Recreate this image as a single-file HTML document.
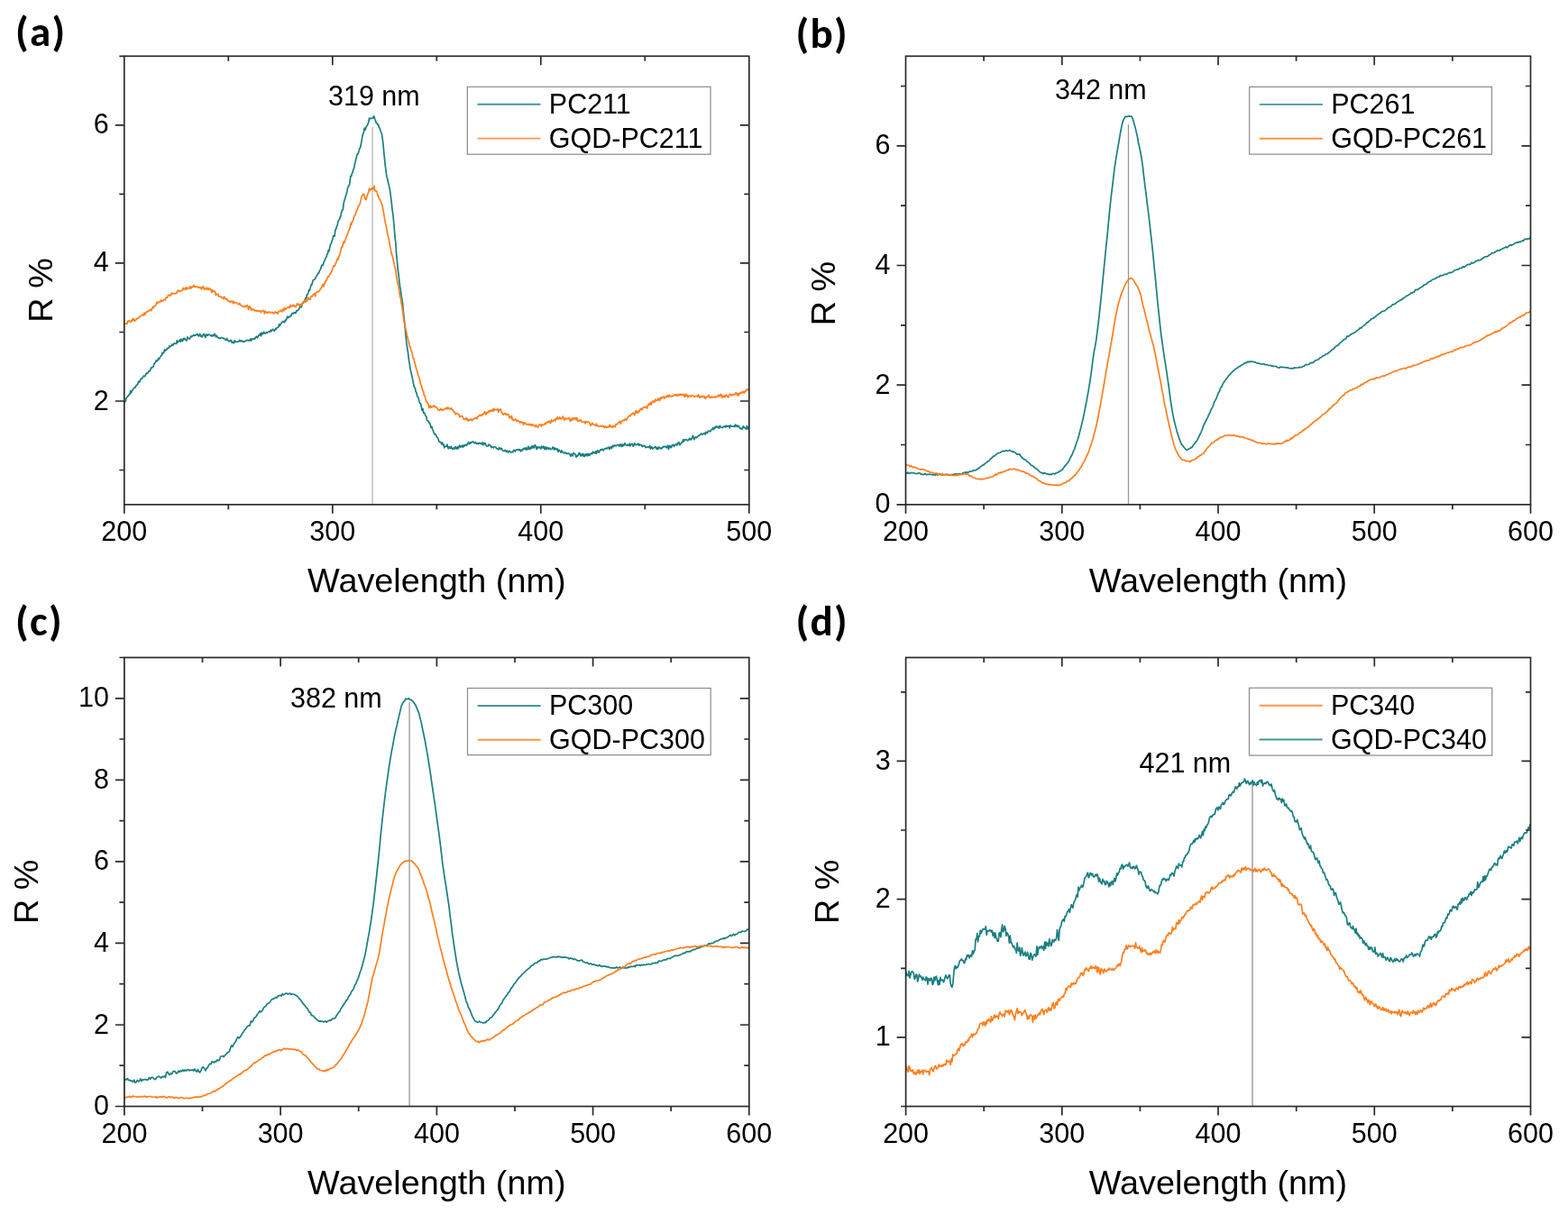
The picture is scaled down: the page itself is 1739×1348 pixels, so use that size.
<!DOCTYPE html><html><head><meta charset="utf-8"><title>Reflectance spectra</title><style>html,body{margin:0;padding:0;background:#fff;}svg{display:block;}text{font-family:"Liberation Sans",Arial,sans-serif;fill:#000;}.tl{font-size:30.5px;}.at{font-size:37.8px;}.lg{font-size:30.5px;}.an{font-size:30.5px;}.pl{font-family:"Carlito","Liberation Sans",sans-serif;font-weight:bold;font-size:47px;letter-spacing:1.3px;}</style></head><body>
<svg width="1739" height="1348" viewBox="0 0 1739 1348">
<rect width="1739" height="1348" fill="#fff"/>
<clipPath id="clipa"><rect x="137.8" y="62.3" width="693.0" height="497.5"/></clipPath>
<g><line x1="413.1" y1="140.8" x2="413.1" y2="559.8" stroke="#c4c4c4" stroke-width="1.6"/><g clip-path="url(#clipa)" fill="none" stroke-width="1.7" stroke-linejoin="round"><path d="M137.8 446.0 L138.6 446.1 L139.3 444.7 L140.1 441.8 L140.9 440.8 L141.7 439.4 L142.4 439.3 L143.2 437.6 L144.0 437.3 L144.7 433.6 L145.5 436.0 L146.3 433.4 L147.0 433.2 L147.8 431.4 L148.6 430.3 L149.4 430.2 L150.1 429.7 L150.9 427.8 L151.7 427.0 L152.4 426.9 L153.2 424.5 L154.0 423.0 L154.7 424.1 L155.5 422.1 L156.3 420.0 L157.1 420.2 L157.8 419.7 L158.6 418.1 L159.4 416.9 L160.1 417.6 L160.9 417.5 L161.7 415.5 L162.4 414.1 L163.2 414.4 L164.0 413.9 L164.8 411.9 L165.5 411.9 L166.3 411.5 L167.1 409.4 L167.8 407.8 L168.6 408.1 L169.4 407.0 L170.1 406.9 L170.9 403.5 L171.7 403.1 L172.5 401.9 L173.2 399.9 L174.0 400.7 L174.8 400.0 L175.5 397.7 L176.3 398.7 L177.1 397.1 L177.8 395.9 L178.6 394.6 L179.4 394.2 L180.2 391.0 L180.9 392.0 L181.7 391.1 L182.5 387.9 L183.2 389.3 L184.0 388.0 L184.8 388.3 L185.5 386.4 L186.3 386.2 L187.1 385.9 L187.9 384.0 L188.6 384.9 L189.4 383.6 L190.2 383.6 L190.9 382.0 L191.7 383.1 L192.5 382.1 L193.2 380.8 L194.0 381.1 L194.8 381.3 L195.6 381.5 L196.3 377.7 L197.1 379.8 L197.9 379.1 L198.6 378.2 L199.4 377.1 L200.2 379.1 L200.9 376.3 L201.7 378.0 L202.5 378.5 L203.3 375.4 L204.0 376.5 L204.8 375.3 L205.6 376.6 L206.3 377.7 L207.1 377.9 L207.9 373.9 L208.6 374.7 L209.4 375.7 L210.2 376.1 L211.0 374.6 L211.7 373.0 L212.5 373.6 L213.3 373.0 L214.0 372.4 L214.8 371.6 L215.6 372.5 L216.3 372.2 L217.1 371.7 L217.9 371.6 L218.7 370.5 L219.4 371.3 L220.2 373.0 L221.0 371.6 L221.7 370.4 L222.5 373.1 L223.3 372.3 L224.0 373.9 L224.8 371.9 L225.6 371.3 L226.4 370.4 L227.1 373.1 L227.9 374.4 L228.7 371.0 L229.4 371.2 L230.2 372.4 L231.0 371.0 L231.7 371.5 L232.5 371.5 L233.3 372.0 L234.1 372.9 L234.8 371.9 L235.6 372.9 L236.4 371.6 L237.1 372.5 L237.9 370.3 L238.7 371.2 L239.4 373.7 L240.2 372.5 L241.0 374.0 L241.8 374.2 L242.5 375.3 L243.3 375.1 L244.1 375.6 L244.8 374.8 L245.6 374.6 L246.4 374.8 L247.1 375.4 L247.9 375.0 L248.7 375.9 L249.5 376.6 L250.2 377.2 L251.0 376.9 L251.8 375.5 L252.5 377.5 L253.3 378.0 L254.1 378.9 L254.8 378.5 L255.6 377.4 L256.4 377.5 L257.2 380.3 L257.9 379.1 L258.7 380.3 L259.5 380.7 L260.2 377.8 L261.0 379.1 L261.8 379.2 L262.5 379.3 L263.3 379.3 L264.1 379.0 L264.9 379.0 L265.6 377.3 L266.4 378.6 L267.2 377.9 L267.9 378.8 L268.7 378.1 L269.5 379.1 L270.2 379.3 L271.0 378.7 L271.8 378.6 L272.6 378.2 L273.3 377.6 L274.1 377.7 L274.9 377.3 L275.6 378.0 L276.4 377.5 L277.2 377.9 L277.9 375.9 L278.7 377.9 L279.5 376.1 L280.3 376.0 L281.0 376.3 L281.8 375.5 L282.6 376.0 L283.3 374.6 L284.1 373.6 L284.9 373.3 L285.6 374.9 L286.4 373.0 L287.2 371.3 L288.0 371.9 L288.7 369.8 L289.5 372.7 L290.3 369.1 L291.0 370.7 L291.8 370.5 L292.6 368.2 L293.3 369.6 L294.1 370.1 L294.9 369.3 L295.7 368.8 L296.4 369.3 L297.2 368.3 L298.0 368.2 L298.7 367.5 L299.5 368.0 L300.3 366.2 L301.0 367.6 L301.8 366.1 L302.6 365.2 L303.4 366.3 L304.1 367.3 L304.9 366.2 L305.7 364.4 L306.4 365.2 L307.2 363.5 L308.0 363.3 L308.7 362.9 L309.5 359.8 L310.3 361.6 L311.1 359.6 L311.8 359.2 L312.6 357.6 L313.4 356.8 L314.1 356.5 L314.9 357.5 L315.7 357.6 L316.4 355.1 L317.2 355.5 L318.0 353.4 L318.8 351.1 L319.5 352.6 L320.3 352.2 L321.1 350.8 L321.8 350.9 L322.6 350.6 L323.4 348.6 L324.1 347.4 L324.9 348.1 L325.7 347.5 L326.5 346.7 L327.2 347.4 L328.0 347.5 L328.8 344.6 L329.5 345.0 L330.3 344.4 L331.1 343.4 L331.8 342.8 L332.6 340.4 L333.4 340.6 L334.2 340.8 L334.9 338.5 L335.7 335.9 L336.5 336.0 L337.2 335.4 L338.0 333.2 L338.8 330.9 L339.5 331.5 L340.3 327.0 L341.1 327.0 L341.9 324.7 L342.6 321.6 L343.4 322.2 L344.2 319.4 L344.9 316.1 L345.7 316.2 L346.5 313.6 L347.2 310.7 L348.0 310.5 L348.8 310.1 L349.6 309.2 L350.3 307.4 L351.1 306.1 L351.9 305.2 L352.6 303.2 L353.4 303.3 L354.2 300.9 L354.9 299.6 L355.7 298.3 L356.5 295.2 L357.3 294.1 L358.0 294.7 L358.8 292.0 L359.6 289.7 L360.3 288.7 L361.1 286.2 L361.9 285.2 L362.6 282.4 L363.4 281.5 L364.2 277.7 L365.0 278.6 L365.7 274.6 L366.5 271.3 L367.3 270.3 L368.0 267.7 L368.8 265.8 L369.6 262.1 L370.3 261.2 L371.1 262.1 L371.9 254.9 L372.7 254.3 L373.4 251.4 L374.2 249.8 L375.0 245.6 L375.7 244.1 L376.5 243.4 L377.3 240.6 L378.0 239.8 L378.8 234.9 L379.6 233.1 L380.4 232.8 L381.1 225.9 L381.9 222.5 L382.7 220.3 L383.4 217.4 L384.2 215.3 L385.0 211.7 L385.7 208.0 L386.5 206.2 L387.3 205.9 L388.1 202.0 L388.8 195.4 L389.6 195.6 L390.4 192.4 L391.1 191.3 L391.9 187.7 L392.7 186.7 L393.4 182.4 L394.2 179.1 L395.0 175.5 L395.8 172.8 L396.5 171.1 L397.3 170.1 L398.1 167.5 L398.8 164.6 L399.6 163.9 L400.4 159.8 L401.1 155.8 L401.9 151.3 L402.7 148.5 L403.5 146.2 L404.2 142.0 L405.0 144.1 L405.8 142.0 L406.5 139.7 L407.3 139.5 L408.1 137.3 L408.8 135.5 L409.6 131.0 L410.4 131.8 L411.2 131.3 L411.9 131.5 L412.7 131.3 L413.5 131.1 L414.2 129.1 L415.0 129.0 L415.8 133.0 L416.5 133.8 L417.3 136.3 L418.1 136.7 L418.9 138.5 L419.6 138.2 L420.4 141.5 L421.2 142.1 L421.9 144.6 L422.7 146.8 L423.5 148.8 L424.2 153.6 L425.0 160.1 L425.8 169.1 L426.6 177.4 L427.3 184.0 L428.1 189.6 L428.9 196.2 L429.6 197.9 L430.4 202.3 L431.2 205.1 L431.9 208.0 L432.7 212.6 L433.5 218.9 L434.3 225.3 L435.0 232.3 L435.8 237.5 L436.6 245.5 L437.3 253.7 L438.1 264.1 L438.9 269.4 L439.6 281.5 L440.4 289.3 L441.2 298.1 L442.0 303.9 L442.7 310.7 L443.5 317.4 L444.3 321.5 L445.0 326.8 L445.8 332.3 L446.6 337.1 L447.3 345.1 L448.1 352.1 L448.9 359.7 L449.7 368.6 L450.4 375.8 L451.2 383.0 L452.0 387.8 L452.7 392.7 L453.5 399.8 L454.3 404.2 L455.0 409.1 L455.8 412.8 L456.6 416.2 L457.4 419.6 L458.1 423.2 L458.9 427.6 L459.7 429.7 L460.4 430.8 L461.2 434.8 L462.0 435.8 L462.7 439.6 L463.5 440.4 L464.3 442.4 L465.1 445.8 L465.8 447.5 L466.6 447.8 L467.4 452.0 L468.1 455.2 L468.9 453.4 L469.7 458.4 L470.4 457.7 L471.2 459.5 L472.0 461.5 L472.8 461.8 L473.5 466.2 L474.3 466.9 L475.1 467.1 L475.8 469.1 L476.6 469.3 L477.4 471.9 L478.1 474.6 L478.9 473.3 L479.7 476.0 L480.5 478.0 L481.2 480.2 L482.0 481.9 L482.8 481.4 L483.5 482.4 L484.3 484.8 L485.1 485.2 L485.8 486.3 L486.6 488.8 L487.4 490.5 L488.2 490.2 L488.9 490.8 L489.7 492.6 L490.5 491.0 L491.2 493.5 L492.0 493.0 L492.8 496.8 L493.5 495.4 L494.3 495.2 L495.1 495.1 L495.9 493.1 L496.6 496.6 L497.4 497.7 L498.2 495.6 L498.9 497.2 L499.7 497.4 L500.5 495.3 L501.2 497.9 L502.0 498.4 L502.8 497.4 L503.6 497.1 L504.3 498.0 L505.1 495.6 L505.9 497.2 L506.6 498.0 L507.4 495.6 L508.2 497.7 L508.9 496.1 L509.7 494.2 L510.5 495.9 L511.3 494.8 L512.0 495.8 L512.8 494.1 L513.6 496.0 L514.3 494.0 L515.1 494.8 L515.9 493.5 L516.6 493.3 L517.4 494.4 L518.2 492.9 L519.0 491.9 L519.7 490.6 L520.5 492.7 L521.3 492.0 L522.0 490.8 L522.8 491.3 L523.6 490.1 L524.3 490.1 L525.1 490.3 L525.9 491.6 L526.7 491.5 L527.4 490.6 L528.2 492.1 L529.0 492.2 L529.7 491.7 L530.5 492.6 L531.3 491.4 L532.0 491.6 L532.8 492.3 L533.6 491.9 L534.4 492.8 L535.1 490.9 L535.9 493.7 L536.7 491.7 L537.4 492.6 L538.2 491.6 L539.0 493.9 L539.7 494.9 L540.5 495.0 L541.3 495.0 L542.1 493.0 L542.8 494.0 L543.6 494.6 L544.4 494.4 L545.1 496.7 L545.9 496.0 L546.7 496.0 L547.4 496.8 L548.2 495.5 L549.0 495.8 L549.8 496.0 L550.5 497.6 L551.3 497.7 L552.1 498.1 L552.8 498.8 L553.6 496.6 L554.4 497.6 L555.1 498.5 L555.9 497.2 L556.7 498.2 L557.5 500.0 L558.2 500.3 L559.0 500.5 L559.8 499.7 L560.5 499.7 L561.3 501.2 L562.1 500.0 L562.8 500.9 L563.6 502.1 L564.4 500.6 L565.2 500.4 L565.9 501.1 L566.7 501.8 L567.5 501.7 L568.2 501.3 L569.0 501.6 L569.8 499.3 L570.5 499.9 L571.3 500.8 L572.1 499.5 L572.9 498.9 L573.6 498.8 L574.4 498.9 L575.2 499.5 L575.9 498.4 L576.7 499.5 L577.5 500.8 L578.2 498.9 L579.0 500.1 L579.8 499.0 L580.6 497.4 L581.3 498.1 L582.1 497.2 L582.9 498.8 L583.6 496.7 L584.4 499.0 L585.2 498.1 L585.9 495.3 L586.7 498.0 L587.5 498.6 L588.3 496.1 L589.0 497.8 L589.8 494.9 L590.6 496.8 L591.3 494.8 L592.1 496.9 L592.9 494.5 L593.6 493.6 L594.4 496.6 L595.2 498.5 L596.0 495.6 L596.7 497.0 L597.5 496.3 L598.3 495.9 L599.0 496.9 L599.8 497.9 L600.6 495.1 L601.3 496.9 L602.1 496.7 L602.9 495.0 L603.7 498.1 L604.4 498.5 L605.2 495.7 L606.0 498.4 L606.7 496.8 L607.5 496.6 L608.3 498.4 L609.0 497.2 L609.8 497.3 L610.6 498.6 L611.4 498.5 L612.1 498.2 L612.9 496.0 L613.7 496.0 L614.4 498.9 L615.2 497.1 L616.0 498.5 L616.7 497.6 L617.5 498.8 L618.3 498.0 L619.1 501.3 L619.8 499.0 L620.6 500.2 L621.4 500.5 L622.1 502.2 L622.9 499.9 L623.7 501.5 L624.4 501.6 L625.2 502.6 L626.0 502.7 L626.8 502.0 L627.5 502.9 L628.3 502.5 L629.1 503.5 L629.8 503.2 L630.6 502.8 L631.4 503.6 L632.1 504.2 L632.9 506.3 L633.7 503.7 L634.5 504.6 L635.2 505.9 L636.0 502.5 L636.8 503.0 L637.5 503.6 L638.3 504.7 L639.1 507.3 L639.8 505.3 L640.6 506.1 L641.4 504.7 L642.2 502.4 L642.9 502.6 L643.7 505.9 L644.5 505.1 L645.2 503.6 L646.0 506.0 L646.8 503.4 L647.5 506.0 L648.3 506.4 L649.1 504.1 L649.9 503.8 L650.6 505.7 L651.4 503.7 L652.2 505.6 L652.9 503.4 L653.7 505.2 L654.5 504.2 L655.2 503.4 L656.0 502.7 L656.8 503.6 L657.6 501.1 L658.3 502.4 L659.1 502.0 L659.9 502.8 L660.6 500.5 L661.4 503.2 L662.2 500.9 L662.9 499.8 L663.7 502.0 L664.5 502.0 L665.3 499.8 L666.0 498.8 L666.8 499.4 L667.6 498.3 L668.3 498.4 L669.1 499.9 L669.9 498.4 L670.6 497.9 L671.4 497.8 L672.2 497.2 L673.0 497.8 L673.7 497.7 L674.5 496.2 L675.3 496.4 L676.0 498.5 L676.8 496.3 L677.6 495.5 L678.3 497.6 L679.1 495.4 L679.9 494.1 L680.7 495.7 L681.4 494.0 L682.2 494.2 L683.0 494.9 L683.7 494.3 L684.5 493.6 L685.3 493.6 L686.0 493.5 L686.8 495.1 L687.6 493.1 L688.4 493.1 L689.1 495.6 L689.9 492.9 L690.7 494.8 L691.4 494.6 L692.2 493.0 L693.0 491.7 L693.7 493.6 L694.5 493.8 L695.3 494.1 L696.1 493.2 L696.8 494.3 L697.6 494.5 L698.4 492.1 L699.1 494.6 L699.9 493.4 L700.7 492.6 L701.4 492.9 L702.2 495.2 L703.0 494.3 L703.8 491.6 L704.5 493.5 L705.3 493.3 L706.1 493.3 L706.8 493.0 L707.6 492.1 L708.4 494.5 L709.1 492.9 L709.9 493.6 L710.7 493.6 L711.5 493.7 L712.2 495.3 L713.0 495.2 L713.8 494.4 L714.5 494.3 L715.3 495.0 L716.1 496.6 L716.8 496.0 L717.6 496.2 L718.4 495.8 L719.2 496.0 L719.9 496.5 L720.7 494.5 L721.5 498.1 L722.2 495.8 L723.0 496.1 L723.8 498.0 L724.5 497.0 L725.3 496.9 L726.1 496.3 L726.9 495.4 L727.6 497.2 L728.4 498.3 L729.2 496.2 L729.9 498.5 L730.7 496.0 L731.5 496.4 L732.2 497.7 L733.0 497.2 L733.8 497.9 L734.6 496.4 L735.3 496.1 L736.1 495.1 L736.9 495.7 L737.6 495.7 L738.4 495.2 L739.2 496.8 L739.9 495.7 L740.7 494.2 L741.5 498.5 L742.3 495.0 L743.0 494.4 L743.8 496.7 L744.6 496.4 L745.3 493.9 L746.1 493.4 L746.9 493.6 L747.6 495.5 L748.4 493.8 L749.2 492.9 L750.0 493.4 L750.7 494.3 L751.5 491.3 L752.3 492.0 L753.0 490.6 L753.8 493.8 L754.6 493.1 L755.3 491.8 L756.1 490.4 L756.9 490.8 L757.7 487.7 L758.4 489.8 L759.2 487.8 L760.0 487.6 L760.7 487.9 L761.5 488.0 L762.3 488.7 L763.0 488.6 L763.8 487.9 L764.6 486.4 L765.4 487.8 L766.1 486.8 L766.9 487.8 L767.7 485.5 L768.4 483.4 L769.2 485.4 L770.0 487.7 L770.7 485.8 L771.5 484.8 L772.3 485.6 L773.1 484.8 L773.8 484.4 L774.6 483.1 L775.4 483.3 L776.1 483.0 L776.9 481.7 L777.7 480.8 L778.4 481.7 L779.2 482.1 L780.0 481.3 L780.8 480.8 L781.5 480.4 L782.3 482.1 L783.1 479.4 L783.8 479.8 L784.6 480.4 L785.4 478.2 L786.1 478.0 L786.9 478.5 L787.7 478.8 L788.5 477.1 L789.2 476.8 L790.0 476.2 L790.8 474.7 L791.5 476.7 L792.3 475.1 L793.1 473.4 L793.8 474.7 L794.6 473.0 L795.4 473.5 L796.2 474.3 L796.9 473.2 L797.7 475.0 L798.5 472.3 L799.2 473.8 L800.0 474.0 L800.8 474.7 L801.5 474.1 L802.3 473.3 L803.1 473.1 L803.9 472.9 L804.6 474.0 L805.4 472.2 L806.2 473.3 L806.9 472.6 L807.7 472.9 L808.5 472.4 L809.2 474.7 L810.0 471.9 L810.8 472.8 L811.6 472.8 L812.3 473.1 L813.1 473.0 L813.9 472.9 L814.6 473.5 L815.4 471.1 L816.2 472.8 L816.9 471.8 L817.7 473.5 L818.5 472.3 L819.3 472.8 L820.0 474.0 L820.8 475.7 L821.6 475.1 L822.3 475.0 L823.1 476.3 L823.9 474.0 L824.6 472.8 L825.4 474.4 L826.2 474.4 L827.0 475.6 L827.7 476.2 L828.5 472.4 L829.3 475.9 L830.0 474.5 L830.8 473.4" stroke="#1b7f80"/><path d="M137.8 358.7 L138.6 359.5 L139.3 359.0 L140.1 358.7 L140.9 359.4 L141.7 356.3 L142.4 356.6 L143.2 355.7 L144.0 356.6 L144.7 357.4 L145.5 356.1 L146.3 356.3 L147.0 353.6 L147.8 355.3 L148.6 353.9 L149.4 356.3 L150.1 355.0 L150.9 354.7 L151.7 353.4 L152.4 353.6 L153.2 353.3 L154.0 351.9 L154.7 351.3 L155.5 351.3 L156.3 350.4 L157.1 349.9 L157.8 349.8 L158.6 348.9 L159.4 349.9 L160.1 347.0 L160.9 349.0 L161.7 347.0 L162.4 346.6 L163.2 345.2 L164.0 345.9 L164.8 345.2 L165.5 345.0 L166.3 343.6 L167.1 343.6 L167.8 344.6 L168.6 342.5 L169.4 340.8 L170.1 341.6 L170.9 339.7 L171.7 339.7 L172.5 339.0 L173.2 337.3 L174.0 335.1 L174.8 336.0 L175.5 336.3 L176.3 334.8 L177.1 335.0 L177.8 335.0 L178.6 333.0 L179.4 334.3 L180.2 334.2 L180.9 333.2 L181.7 332.8 L182.5 332.3 L183.2 333.0 L184.0 330.5 L184.8 329.9 L185.5 330.1 L186.3 328.1 L187.1 327.1 L187.9 327.3 L188.6 328.2 L189.4 327.9 L190.2 325.5 L190.9 324.8 L191.7 326.0 L192.5 325.7 L193.2 325.5 L194.0 325.8 L194.8 326.0 L195.6 324.6 L196.3 324.6 L197.1 322.5 L197.9 322.1 L198.6 323.1 L199.4 323.2 L200.2 322.9 L200.9 322.5 L201.7 322.3 L202.5 322.1 L203.3 319.3 L204.0 320.0 L204.8 321.0 L205.6 321.0 L206.3 318.7 L207.1 321.2 L207.9 319.4 L208.6 319.4 L209.4 319.7 L210.2 320.0 L211.0 317.7 L211.7 320.0 L212.5 318.9 L213.3 318.0 L214.0 318.4 L214.8 316.4 L215.6 317.8 L216.3 318.6 L217.1 317.7 L217.9 318.1 L218.7 318.3 L219.4 318.5 L220.2 319.5 L221.0 318.5 L221.7 318.4 L222.5 319.3 L223.3 320.9 L224.0 318.6 L224.8 319.6 L225.6 317.7 L226.4 320.8 L227.1 320.2 L227.9 321.1 L228.7 319.9 L229.4 319.1 L230.2 321.3 L231.0 321.3 L231.7 320.0 L232.5 319.6 L233.3 321.7 L234.1 321.4 L234.8 324.6 L235.6 321.9 L236.4 322.5 L237.1 323.6 L237.9 322.8 L238.7 324.3 L239.4 327.5 L240.2 326.4 L241.0 326.5 L241.8 326.3 L242.5 328.6 L243.3 329.2 L244.1 329.2 L244.8 329.0 L245.6 330.1 L246.4 330.5 L247.1 329.9 L247.9 331.5 L248.7 329.2 L249.5 330.4 L250.2 331.7 L251.0 332.2 L251.8 331.5 L252.5 333.3 L253.3 334.4 L254.1 334.1 L254.8 334.2 L255.6 335.1 L256.4 335.0 L257.2 333.7 L257.9 334.9 L258.7 336.7 L259.5 334.5 L260.2 336.0 L261.0 335.8 L261.8 335.5 L262.5 335.7 L263.3 337.1 L264.1 337.5 L264.9 337.8 L265.6 336.3 L266.4 337.7 L267.2 338.6 L267.9 339.5 L268.7 339.5 L269.5 340.0 L270.2 340.5 L271.0 340.5 L271.8 339.2 L272.6 340.4 L273.3 339.9 L274.1 338.6 L274.9 339.6 L275.6 343.6 L276.4 340.7 L277.2 339.9 L277.9 341.8 L278.7 344.2 L279.5 342.9 L280.3 343.6 L281.0 343.1 L281.8 343.5 L282.6 345.0 L283.3 344.8 L284.1 344.1 L284.9 345.2 L285.6 345.6 L286.4 344.5 L287.2 345.2 L288.0 345.4 L288.7 344.7 L289.5 346.6 L290.3 345.5 L291.0 345.2 L291.8 344.3 L292.6 344.8 L293.3 347.8 L294.1 345.2 L294.9 346.9 L295.7 346.1 L296.4 347.1 L297.2 347.2 L298.0 345.8 L298.7 346.3 L299.5 346.7 L300.3 346.7 L301.0 346.6 L301.8 346.3 L302.6 347.2 L303.4 347.9 L304.1 347.1 L304.9 345.9 L305.7 347.0 L306.4 346.6 L307.2 347.0 L308.0 348.2 L308.7 345.9 L309.5 345.8 L310.3 344.6 L311.1 344.8 L311.8 344.1 L312.6 345.9 L313.4 344.2 L314.1 342.9 L314.9 344.9 L315.7 341.3 L316.4 343.1 L317.2 342.9 L318.0 342.2 L318.8 341.1 L319.5 341.1 L320.3 340.6 L321.1 341.6 L321.8 338.3 L322.6 339.9 L323.4 340.4 L324.1 339.5 L324.9 338.1 L325.7 339.5 L326.5 338.8 L327.2 340.2 L328.0 340.6 L328.8 339.0 L329.5 336.8 L330.3 338.3 L331.1 337.2 L331.8 338.5 L332.6 339.2 L333.4 337.4 L334.2 338.7 L334.9 337.8 L335.7 336.5 L336.5 334.5 L337.2 335.1 L338.0 333.0 L338.8 335.0 L339.5 333.6 L340.3 334.3 L341.1 332.7 L341.9 330.0 L342.6 332.1 L343.4 331.9 L344.2 332.1 L344.9 328.9 L345.7 328.4 L346.5 328.8 L347.2 327.1 L348.0 326.2 L348.8 325.9 L349.6 328.9 L350.3 325.0 L351.1 323.9 L351.9 323.7 L352.6 323.4 L353.4 323.8 L354.2 322.7 L354.9 321.6 L355.7 320.0 L356.5 319.1 L357.3 317.4 L358.0 315.5 L358.8 318.0 L359.6 314.4 L360.3 314.7 L361.1 312.1 L361.9 311.1 L362.6 309.7 L363.4 307.1 L364.2 307.1 L365.0 306.1 L365.7 305.1 L366.5 303.4 L367.3 302.4 L368.0 300.3 L368.8 298.5 L369.6 295.1 L370.3 295.0 L371.1 295.6 L371.9 292.7 L372.7 291.8 L373.4 289.1 L374.2 287.0 L375.0 288.0 L375.7 284.5 L376.5 283.7 L377.3 280.8 L378.0 278.0 L378.8 274.0 L379.6 274.4 L380.4 270.7 L381.1 268.1 L381.9 269.6 L382.7 267.1 L383.4 265.0 L384.2 262.5 L385.0 260.4 L385.7 258.8 L386.5 256.6 L387.3 254.5 L388.1 253.2 L388.8 248.1 L389.6 249.5 L390.4 246.0 L391.1 245.5 L391.9 243.9 L392.7 240.0 L393.4 239.7 L394.2 237.9 L395.0 234.7 L395.8 233.2 L396.5 232.2 L397.3 228.3 L398.1 228.3 L398.8 227.1 L399.6 224.4 L400.4 220.6 L401.1 218.2 L401.9 217.1 L402.7 215.5 L403.5 215.3 L404.2 217.2 L405.0 220.6 L405.8 221.7 L406.5 219.5 L407.3 216.8 L408.1 214.7 L408.8 213.4 L409.6 209.0 L410.4 211.5 L411.2 209.8 L411.9 210.2 L412.7 208.5 L413.5 208.8 L414.2 210.1 L415.0 206.1 L415.8 211.9 L416.5 212.0 L417.3 211.8 L418.1 212.7 L418.9 217.2 L419.6 217.3 L420.4 220.6 L421.2 221.1 L421.9 222.2 L422.7 225.0 L423.5 226.2 L424.2 229.6 L425.0 233.6 L425.8 237.6 L426.6 242.8 L427.3 247.5 L428.1 249.5 L428.9 254.5 L429.6 258.5 L430.4 262.1 L431.2 264.6 L431.9 269.3 L432.7 273.9 L433.5 277.3 L434.3 282.0 L435.0 283.3 L435.8 286.8 L436.6 290.1 L437.3 293.9 L438.1 297.2 L438.9 299.8 L439.6 305.9 L440.4 310.6 L441.2 314.9 L442.0 316.9 L442.7 322.0 L443.5 328.4 L444.3 330.8 L445.0 335.6 L445.8 339.7 L446.6 345.7 L447.3 350.6 L448.1 356.9 L448.9 359.8 L449.7 364.3 L450.4 366.7 L451.2 371.1 L452.0 374.1 L452.7 377.5 L453.5 379.3 L454.3 384.5 L455.0 384.8 L455.8 388.7 L456.6 389.6 L457.4 393.7 L458.1 397.5 L458.9 397.7 L459.7 401.6 L460.4 404.0 L461.2 407.2 L462.0 410.2 L462.7 412.1 L463.5 415.3 L464.3 417.7 L465.1 420.1 L465.8 422.3 L466.6 426.9 L467.4 427.4 L468.1 431.1 L468.9 433.4 L469.7 434.3 L470.4 438.7 L471.2 439.2 L472.0 442.9 L472.8 445.8 L473.5 445.6 L474.3 447.0 L475.1 448.4 L475.8 452.6 L476.6 450.6 L477.4 450.0 L478.1 452.2 L478.9 451.3 L479.7 451.5 L480.5 450.7 L481.2 449.7 L482.0 451.5 L482.8 451.6 L483.5 451.4 L484.3 452.4 L485.1 452.9 L485.8 455.0 L486.6 455.2 L487.4 455.1 L488.2 454.2 L488.9 453.4 L489.7 454.9 L490.5 454.9 L491.2 455.3 L492.0 454.1 L492.8 453.8 L493.5 454.0 L494.3 452.6 L495.1 452.6 L495.9 453.9 L496.6 451.8 L497.4 452.9 L498.2 453.8 L498.9 453.3 L499.7 453.8 L500.5 452.7 L501.2 454.3 L502.0 454.8 L502.8 456.3 L503.6 456.9 L504.3 457.2 L505.1 459.7 L505.9 459.0 L506.6 458.6 L507.4 458.8 L508.2 459.8 L508.9 459.8 L509.7 462.6 L510.5 462.0 L511.3 461.6 L512.0 461.8 L512.8 461.9 L513.6 463.1 L514.3 465.2 L515.1 465.1 L515.9 464.6 L516.6 465.1 L517.4 463.4 L518.2 466.3 L519.0 465.5 L519.7 467.2 L520.5 465.7 L521.3 465.3 L522.0 465.9 L522.8 464.9 L523.6 466.6 L524.3 465.3 L525.1 465.1 L525.9 464.7 L526.7 463.6 L527.4 464.1 L528.2 463.3 L529.0 464.5 L529.7 462.3 L530.5 462.2 L531.3 461.0 L532.0 460.6 L532.8 460.3 L533.6 461.5 L534.4 460.0 L535.1 460.6 L535.9 459.0 L536.7 458.6 L537.4 456.7 L538.2 459.1 L539.0 459.9 L539.7 457.3 L540.5 458.6 L541.3 457.7 L542.1 455.8 L542.8 456.9 L543.6 455.0 L544.4 455.3 L545.1 456.6 L545.9 455.3 L546.7 453.8 L547.4 456.3 L548.2 453.7 L549.0 454.6 L549.8 454.5 L550.5 454.8 L551.3 454.2 L552.1 453.6 L552.8 457.3 L553.6 454.7 L554.4 455.0 L555.1 453.7 L555.9 456.6 L556.7 458.1 L557.5 458.5 L558.2 460.3 L559.0 459.4 L559.8 458.6 L560.5 458.6 L561.3 460.4 L562.1 459.4 L562.8 460.1 L563.6 459.6 L564.4 461.3 L565.2 463.8 L565.9 462.5 L566.7 463.6 L567.5 461.4 L568.2 465.7 L569.0 465.2 L569.8 466.7 L570.5 465.9 L571.3 465.2 L572.1 465.1 L572.9 467.3 L573.6 467.1 L574.4 466.5 L575.2 467.7 L575.9 467.4 L576.7 469.1 L577.5 468.2 L578.2 467.7 L579.0 469.1 L579.8 468.8 L580.6 471.1 L581.3 469.4 L582.1 468.8 L582.9 470.2 L583.6 470.3 L584.4 471.0 L585.2 471.2 L585.9 470.2 L586.7 471.4 L587.5 471.5 L588.3 470.6 L589.0 471.4 L589.8 472.4 L590.6 470.7 L591.3 471.4 L592.1 472.1 L592.9 472.6 L593.6 473.3 L594.4 471.4 L595.2 473.1 L596.0 473.4 L596.7 474.3 L597.5 472.2 L598.3 471.5 L599.0 470.7 L599.8 472.5 L600.6 472.9 L601.3 470.7 L602.1 471.4 L602.9 471.5 L603.7 471.3 L604.4 469.5 L605.2 470.2 L606.0 469.2 L606.7 467.9 L607.5 468.8 L608.3 468.6 L609.0 467.0 L609.8 468.2 L610.6 469.5 L611.4 465.7 L612.1 467.6 L612.9 467.6 L613.7 466.4 L614.4 466.4 L615.2 465.5 L616.0 466.9 L616.7 464.3 L617.5 464.9 L618.3 462.9 L619.1 465.0 L619.8 464.9 L620.6 462.8 L621.4 463.5 L622.1 464.9 L622.9 463.9 L623.7 463.2 L624.4 461.9 L625.2 464.7 L626.0 466.3 L626.8 463.9 L627.5 464.8 L628.3 464.8 L629.1 464.3 L629.8 464.4 L630.6 464.5 L631.4 463.5 L632.1 466.8 L632.9 467.1 L633.7 464.7 L634.5 466.1 L635.2 463.6 L636.0 464.3 L636.8 465.7 L637.5 463.6 L638.3 463.6 L639.1 465.5 L639.8 463.4 L640.6 467.3 L641.4 466.6 L642.2 466.3 L642.9 467.1 L643.7 465.8 L644.5 466.0 L645.2 468.1 L646.0 468.4 L646.8 467.9 L647.5 468.0 L648.3 467.8 L649.1 469.9 L649.9 467.3 L650.6 468.1 L651.4 468.6 L652.2 467.9 L652.9 468.3 L653.7 468.8 L654.5 471.1 L655.2 472.2 L656.0 471.0 L656.8 469.2 L657.6 470.5 L658.3 471.2 L659.1 471.3 L659.9 471.4 L660.6 472.5 L661.4 470.2 L662.2 471.7 L662.9 472.7 L663.7 473.3 L664.5 473.0 L665.3 472.8 L666.0 472.8 L666.8 472.3 L667.6 473.1 L668.3 472.8 L669.1 472.4 L669.9 474.3 L670.6 474.4 L671.4 472.8 L672.2 473.9 L673.0 474.5 L673.7 473.6 L674.5 473.4 L675.3 473.8 L676.0 471.7 L676.8 471.9 L677.6 473.8 L678.3 473.4 L679.1 474.3 L679.9 472.2 L680.7 473.5 L681.4 473.1 L682.2 473.7 L683.0 470.5 L683.7 470.6 L684.5 470.7 L685.3 470.3 L686.0 468.5 L686.8 468.5 L687.6 467.3 L688.4 470.4 L689.1 467.6 L689.9 467.2 L690.7 466.2 L691.4 466.3 L692.2 466.6 L693.0 465.0 L693.7 464.8 L694.5 466.5 L695.3 464.7 L696.1 463.5 L696.8 462.3 L697.6 462.1 L698.4 460.8 L699.1 461.3 L699.9 459.8 L700.7 459.3 L701.4 459.1 L702.2 458.0 L703.0 458.8 L703.8 460.7 L704.5 457.1 L705.3 455.7 L706.1 457.9 L706.8 456.5 L707.6 458.2 L708.4 456.2 L709.1 456.4 L709.9 454.3 L710.7 453.1 L711.5 454.2 L712.2 454.6 L713.0 452.7 L713.8 451.6 L714.5 452.1 L715.3 451.8 L716.1 451.5 L716.8 451.2 L717.6 453.1 L718.4 450.2 L719.2 449.1 L719.9 447.9 L720.7 449.2 L721.5 446.3 L722.2 448.8 L723.0 446.8 L723.8 444.8 L724.5 445.9 L725.3 445.2 L726.1 446.1 L726.9 443.0 L727.6 444.4 L728.4 443.8 L729.2 444.4 L729.9 442.1 L730.7 442.1 L731.5 444.6 L732.2 442.9 L733.0 440.6 L733.8 442.2 L734.6 440.8 L735.3 440.7 L736.1 440.0 L736.9 442.0 L737.6 440.2 L738.4 440.8 L739.2 440.5 L739.9 438.7 L740.7 439.3 L741.5 440.6 L742.3 438.1 L743.0 439.8 L743.8 439.2 L744.6 439.8 L745.3 439.7 L746.1 439.7 L746.9 438.8 L747.6 438.8 L748.4 437.7 L749.2 437.8 L750.0 439.1 L750.7 437.6 L751.5 439.1 L752.3 439.0 L753.0 437.2 L753.8 438.6 L754.6 437.2 L755.3 438.4 L756.1 437.4 L756.9 438.5 L757.7 438.5 L758.4 437.3 L759.2 440.5 L760.0 439.5 L760.7 437.1 L761.5 439.1 L762.3 438.4 L763.0 441.0 L763.8 439.0 L764.6 439.6 L765.4 439.1 L766.1 440.0 L766.9 438.9 L767.7 438.6 L768.4 439.0 L769.2 439.2 L770.0 440.3 L770.7 439.8 L771.5 439.4 L772.3 439.5 L773.1 439.0 L773.8 440.1 L774.6 438.0 L775.4 439.9 L776.1 441.3 L776.9 439.9 L777.7 439.6 L778.4 440.4 L779.2 439.4 L780.0 439.6 L780.8 441.1 L781.5 439.8 L782.3 442.4 L783.1 441.0 L783.8 440.4 L784.6 439.8 L785.4 440.2 L786.1 438.2 L786.9 440.6 L787.7 441.3 L788.5 440.9 L789.2 439.9 L790.0 440.9 L790.8 440.8 L791.5 440.0 L792.3 440.5 L793.1 441.1 L793.8 440.4 L794.6 439.5 L795.4 439.9 L796.2 439.9 L796.9 438.1 L797.7 439.8 L798.5 439.5 L799.2 437.4 L800.0 437.7 L800.8 441.2 L801.5 439.4 L802.3 440.6 L803.1 438.8 L803.9 440.6 L804.6 439.5 L805.4 438.1 L806.2 439.0 L806.9 440.2 L807.7 440.9 L808.5 438.9 L809.2 437.8 L810.0 437.2 L810.8 438.7 L811.6 438.9 L812.3 437.8 L813.1 437.4 L813.9 438.2 L814.6 437.8 L815.4 437.5 L816.2 435.5 L816.9 436.5 L817.7 438.6 L818.5 436.5 L819.3 438.8 L820.0 436.6 L820.8 435.7 L821.6 436.1 L822.3 436.2 L823.1 434.7 L823.9 435.4 L824.6 434.5 L825.4 436.1 L826.2 434.0 L827.0 434.2 L827.7 432.2 L828.5 432.0 L829.3 432.8 L830.0 431.5 L830.8 431.7" stroke="#ff7f1e"/></g><rect x="137.8" y="62.3" width="693.0" height="497.5" fill="none" stroke="#2a2a2a" stroke-width="1.7"/><path d="M127.8 445.0H137.8M830.8 445.0H820.8M127.8 291.9H137.8M830.8 291.9H820.8M127.8 138.8H137.8M830.8 138.8H820.8M132.3 521.5H137.8M830.8 521.5H825.3M132.3 368.5H137.8M830.8 368.5H825.3M132.3 215.4H137.8M830.8 215.4H825.3M132.3 62.3H137.8M137.8 559.8V569.8M368.8 559.8V569.8M368.8 62.3V72.3M599.8 559.8V569.8M599.8 62.3V72.3M830.8 559.8V569.8M253.3 559.8V565.3M253.3 62.3V67.8M484.3 559.8V565.3M484.3 62.3V67.8M715.3 559.8V565.3M715.3 62.3V67.8" stroke="#2a2a2a" stroke-width="1.7" fill="none"/><text class="tl" x="120.8" y="454.5" text-anchor="end">2</text><text class="tl" x="120.8" y="301.4" text-anchor="end">4</text><text class="tl" x="120.8" y="148.3" text-anchor="end">6</text><text class="tl" x="137.8" y="600.3" text-anchor="middle">200</text><text class="tl" x="368.8" y="600.3" text-anchor="middle">300</text><text class="tl" x="599.8" y="600.3" text-anchor="middle">400</text><text class="tl" x="830.8" y="600.3" text-anchor="middle">500</text><text class="at" x="484.3" y="657.2" text-anchor="middle">Wavelength (nm)</text><text class="at" transform="translate(58.40,321.95) rotate(-90)" text-anchor="middle">R %</text><text class="an" x="364.0" y="117.0">319 nm</text><rect x="518.3" y="96.3" width="269.7" height="74.9" fill="#fff" stroke="#8a8a8a" stroke-width="1.2"/><line x1="529.5" y1="115.8" x2="599.5" y2="115.8" stroke="#1b7f80" stroke-width="1.9" stroke-opacity="0.82"/><text class="lg" x="608.8" y="126.1">PC211</text><line x1="529.5" y1="153.6" x2="599.5" y2="153.6" stroke="#ff7f1e" stroke-width="1.9" stroke-opacity="0.82"/><text class="lg" x="608.8" y="163.9">GQD-PC211</text><text class="pl" x="17.05" y="50.75">(a)</text></g>
<clipPath id="clipb"><rect x="1004.5" y="62.3" width="693.0" height="497.5"/></clipPath>
<g><line x1="1251.5" y1="138" x2="1251.5" y2="559.8" stroke="#999999" stroke-width="1.3"/><g clip-path="url(#clipb)" fill="none" stroke-width="1.7" stroke-linejoin="round"><path d="M1004.5 524.7 L1005.7 525.3 L1006.9 524.0 L1008.1 525.4 L1009.3 524.8 L1010.5 524.5 L1011.7 524.6 L1012.9 524.6 L1014.1 525.0 L1015.3 525.5 L1016.5 525.4 L1017.7 525.5 L1018.9 524.6 L1020.1 524.8 L1021.3 526.1 L1022.5 526.0 L1023.7 526.6 L1024.9 526.3 L1026.1 525.5 L1027.3 526.6 L1028.5 526.4 L1029.7 526.4 L1030.9 526.0 L1032.1 526.5 L1033.3 526.5 L1034.5 526.9 L1035.7 526.6 L1036.9 527.2 L1038.1 526.3 L1039.3 526.8 L1040.5 526.8 L1041.7 526.3 L1042.9 526.1 L1044.1 527.0 L1045.3 526.8 L1046.5 526.5 L1047.7 526.8 L1048.9 526.3 L1050.1 526.7 L1051.3 526.4 L1052.5 526.7 L1053.7 527.0 L1054.9 526.5 L1056.1 526.9 L1057.3 526.1 L1058.5 526.3 L1059.7 525.7 L1060.9 526.1 L1062.1 526.0 L1063.3 525.7 L1064.5 525.5 L1065.7 526.0 L1066.9 525.8 L1068.1 524.5 L1069.3 525.3 L1070.5 523.9 L1071.7 524.1 L1072.9 524.1 L1074.1 523.9 L1075.3 523.2 L1076.5 523.0 L1077.7 523.0 L1078.9 522.3 L1080.1 521.9 L1081.3 522.0 L1082.5 521.5 L1083.7 520.5 L1084.9 519.8 L1086.1 519.0 L1087.3 518.0 L1088.5 517.2 L1089.7 516.1 L1090.9 515.9 L1092.1 514.6 L1093.3 513.6 L1094.5 512.7 L1095.7 511.8 L1096.9 511.2 L1098.1 509.6 L1099.3 508.5 L1100.5 507.6 L1101.7 506.1 L1102.9 506.0 L1104.1 504.8 L1105.3 503.9 L1106.5 502.8 L1107.7 502.5 L1108.9 502.2 L1110.1 501.6 L1111.3 501.0 L1112.5 500.1 L1113.7 500.9 L1114.9 500.1 L1116.1 499.7 L1117.3 500.3 L1118.5 500.0 L1119.7 499.4 L1120.9 500.2 L1122.1 500.5 L1123.3 501.6 L1124.5 501.0 L1125.7 502.2 L1126.9 502.9 L1128.1 504.2 L1129.3 503.9 L1130.5 503.9 L1131.7 505.4 L1132.9 507.0 L1134.1 508.1 L1135.3 509.4 L1136.5 509.8 L1137.7 510.3 L1138.9 511.9 L1140.1 512.6 L1141.3 513.6 L1142.5 514.7 L1143.7 516.3 L1144.9 516.5 L1146.1 517.4 L1147.3 518.8 L1148.5 519.7 L1149.7 520.2 L1150.9 521.1 L1152.1 522.5 L1153.3 523.7 L1154.5 524.2 L1155.7 524.8 L1156.9 525.5 L1158.1 524.5 L1159.3 525.1 L1160.5 525.7 L1161.7 525.8 L1162.9 526.1 L1164.1 526.6 L1165.3 526.1 L1166.5 526.3 L1167.7 525.4 L1168.9 525.5 L1170.1 526.0 L1171.3 524.7 L1172.5 524.5 L1173.7 524.0 L1174.9 522.9 L1176.1 522.6 L1177.3 521.6 L1178.5 520.7 L1179.7 518.9 L1180.9 517.2 L1182.1 515.9 L1183.3 514.5 L1184.5 513.1 L1185.7 510.8 L1186.9 508.4 L1188.1 506.0 L1189.3 503.8 L1190.5 500.4 L1191.7 498.3 L1192.9 494.0 L1194.1 490.7 L1195.3 487.5 L1196.5 483.4 L1197.7 478.5 L1198.9 474.1 L1200.1 468.8 L1201.3 464.0 L1202.5 458.2 L1203.7 451.8 L1204.9 446.2 L1206.1 439.4 L1207.3 432.7 L1208.5 425.5 L1209.7 417.4 L1210.9 408.5 L1212.1 398.8 L1213.3 390.4 L1214.5 384.6 L1215.7 377.7 L1216.9 368.5 L1218.1 358.6 L1219.3 347.8 L1220.5 336.6 L1221.7 325.0 L1222.9 312.8 L1224.1 300.3 L1225.3 288.2 L1226.5 275.8 L1227.7 264.6 L1228.9 252.0 L1230.1 239.2 L1231.3 227.2 L1232.5 216.5 L1233.7 206.9 L1234.9 196.7 L1236.1 186.5 L1237.3 178.7 L1238.5 171.1 L1239.7 164.2 L1240.9 157.3 L1242.1 150.1 L1243.3 143.7 L1244.5 137.7 L1245.7 133.6 L1246.9 131.3 L1248.1 129.3 L1249.3 129.4 L1250.5 129.4 L1251.7 128.6 L1252.9 129.1 L1254.1 129.0 L1255.3 129.6 L1256.5 132.3 L1257.7 136.7 L1258.9 140.9 L1260.1 145.9 L1261.3 151.1 L1262.5 158.0 L1263.7 163.3 L1264.9 169.0 L1266.1 176.0 L1267.3 184.2 L1268.5 194.8 L1269.7 204.8 L1270.9 214.2 L1272.1 224.0 L1273.3 233.5 L1274.5 243.0 L1275.7 254.1 L1276.9 264.8 L1278.1 275.5 L1279.3 287.7 L1280.5 300.2 L1281.7 312.0 L1282.9 325.0 L1284.1 337.5 L1285.3 348.7 L1286.5 360.1 L1287.7 370.8 L1288.9 379.3 L1290.1 388.0 L1291.3 396.4 L1292.5 403.7 L1293.7 411.3 L1294.9 419.7 L1296.1 427.8 L1297.3 437.1 L1298.5 446.1 L1299.7 453.6 L1300.9 460.4 L1302.1 466.1 L1303.3 471.1 L1304.5 475.6 L1305.7 480.1 L1306.9 483.7 L1308.1 487.4 L1309.3 490.7 L1310.5 493.1 L1311.7 494.1 L1312.9 495.9 L1314.1 497.5 L1315.3 498.7 L1316.5 499.4 L1317.7 498.4 L1318.9 498.0 L1320.1 497.3 L1321.3 496.6 L1322.5 495.5 L1323.7 493.4 L1324.9 492.3 L1326.1 490.3 L1327.3 489.1 L1328.5 486.9 L1329.7 484.4 L1330.9 481.8 L1332.1 479.3 L1333.3 476.5 L1334.5 472.9 L1335.7 470.3 L1336.9 467.9 L1338.1 465.5 L1339.3 463.3 L1340.5 460.4 L1341.7 458.1 L1342.9 454.9 L1344.1 453.0 L1345.3 450.5 L1346.5 446.5 L1347.7 444.3 L1348.9 442.2 L1350.1 439.0 L1351.3 435.6 L1352.5 434.1 L1353.7 430.4 L1354.9 429.1 L1356.1 426.1 L1357.3 424.1 L1358.5 422.6 L1359.7 420.8 L1360.9 419.3 L1362.1 417.7 L1363.3 416.0 L1364.5 415.2 L1365.7 413.6 L1366.9 412.3 L1368.1 411.2 L1369.3 410.1 L1370.5 409.2 L1371.7 408.6 L1372.9 407.7 L1374.1 406.7 L1375.3 406.4 L1376.5 405.2 L1377.7 404.8 L1378.9 404.2 L1380.1 402.7 L1381.3 402.4 L1382.5 402.7 L1383.7 401.2 L1384.9 401.8 L1386.1 400.9 L1387.3 401.5 L1388.5 401.0 L1389.7 401.4 L1390.9 401.6 L1392.1 401.8 L1393.3 402.6 L1394.5 402.8 L1395.7 403.1 L1396.9 403.1 L1398.1 403.9 L1399.3 404.0 L1400.5 403.9 L1401.7 403.6 L1402.9 404.5 L1404.1 404.7 L1405.3 404.7 L1406.5 405.2 L1407.7 405.5 L1408.9 405.3 L1410.1 405.9 L1411.3 406.1 L1412.5 406.3 L1413.7 406.3 L1414.9 406.5 L1416.1 407.0 L1417.3 407.7 L1418.5 408.2 L1419.7 407.3 L1420.9 407.1 L1422.1 407.5 L1423.3 407.4 L1424.5 407.6 L1425.7 408.0 L1426.9 407.5 L1428.1 408.2 L1429.3 408.3 L1430.5 408.6 L1431.7 408.8 L1432.9 408.5 L1434.1 409.0 L1435.3 407.9 L1436.5 408.2 L1437.7 408.0 L1438.9 408.0 L1440.1 408.0 L1441.3 407.2 L1442.5 407.7 L1443.7 407.2 L1444.9 406.5 L1446.1 406.2 L1447.3 405.3 L1448.5 404.3 L1449.7 404.8 L1450.9 404.5 L1452.1 403.9 L1453.3 402.7 L1454.5 402.4 L1455.7 402.6 L1456.9 401.5 L1458.1 400.7 L1459.3 399.7 L1460.5 399.4 L1461.7 399.0 L1462.9 398.1 L1464.1 396.9 L1465.3 396.5 L1466.5 395.3 L1467.7 394.8 L1468.9 394.4 L1470.1 393.2 L1471.3 392.6 L1472.5 392.4 L1473.7 391.0 L1474.9 390.5 L1476.1 389.2 L1477.3 388.0 L1478.5 387.5 L1479.7 386.4 L1480.9 384.7 L1482.1 383.9 L1483.3 383.2 L1484.5 382.8 L1485.7 380.9 L1486.9 380.0 L1488.1 379.1 L1489.3 377.9 L1490.5 376.6 L1491.7 376.4 L1492.9 375.3 L1494.1 372.9 L1495.3 373.3 L1496.5 372.3 L1497.7 371.6 L1498.9 370.5 L1500.1 370.0 L1501.3 369.6 L1502.5 368.7 L1503.7 368.0 L1504.9 366.9 L1506.1 366.1 L1507.3 365.3 L1508.5 363.6 L1509.7 364.1 L1510.9 362.4 L1512.1 361.6 L1513.3 360.6 L1514.5 359.8 L1515.7 357.9 L1516.9 357.9 L1518.1 356.4 L1519.3 355.6 L1520.5 354.3 L1521.7 353.4 L1522.9 353.4 L1524.1 352.1 L1525.3 351.4 L1526.5 350.5 L1527.7 349.2 L1528.9 348.6 L1530.1 347.5 L1531.3 347.1 L1532.5 345.5 L1533.7 345.4 L1534.9 345.1 L1536.1 344.4 L1537.3 343.6 L1538.5 342.5 L1539.7 341.1 L1540.9 341.1 L1542.1 340.1 L1543.3 339.2 L1544.5 337.9 L1545.7 337.7 L1546.9 337.4 L1548.1 336.4 L1549.3 335.2 L1550.5 334.8 L1551.7 333.8 L1552.9 333.1 L1554.1 332.6 L1555.3 331.7 L1556.5 330.8 L1557.7 330.2 L1558.9 329.0 L1560.1 328.2 L1561.3 328.0 L1562.5 326.8 L1563.7 326.5 L1564.9 324.9 L1566.1 325.3 L1567.3 324.1 L1568.5 324.0 L1569.7 321.6 L1570.9 321.2 L1572.1 321.7 L1573.3 320.4 L1574.5 319.8 L1575.7 318.9 L1576.9 318.2 L1578.1 317.6 L1579.3 316.1 L1580.5 315.7 L1581.7 315.4 L1582.9 314.2 L1584.1 313.0 L1585.3 312.5 L1586.5 312.1 L1587.7 310.9 L1588.9 310.1 L1590.1 309.7 L1591.3 309.2 L1592.5 308.9 L1593.7 307.7 L1594.9 307.4 L1596.1 307.2 L1597.3 305.5 L1598.5 305.9 L1599.7 305.6 L1600.9 305.0 L1602.1 304.3 L1603.3 304.4 L1604.5 304.3 L1605.7 303.3 L1606.9 302.8 L1608.1 302.4 L1609.3 302.6 L1610.5 302.0 L1611.7 301.1 L1612.9 300.1 L1614.1 299.5 L1615.3 299.4 L1616.5 298.9 L1617.7 298.6 L1618.9 297.5 L1620.1 297.3 L1621.3 297.1 L1622.5 295.7 L1623.7 296.7 L1624.9 295.5 L1626.1 294.9 L1627.3 293.7 L1628.5 293.3 L1629.7 293.6 L1630.9 293.0 L1632.1 291.2 L1633.3 292.1 L1634.5 291.4 L1635.7 290.8 L1636.9 289.6 L1638.1 289.6 L1639.3 288.7 L1640.5 288.6 L1641.7 288.6 L1642.9 287.5 L1644.1 287.1 L1645.3 286.0 L1646.5 285.1 L1647.7 284.9 L1648.9 284.7 L1650.1 284.3 L1651.3 283.0 L1652.5 282.5 L1653.7 281.7 L1654.9 280.5 L1656.1 280.6 L1657.3 280.2 L1658.5 279.3 L1659.7 278.8 L1660.9 277.6 L1662.1 277.8 L1663.3 277.8 L1664.5 276.7 L1665.7 276.4 L1666.9 275.8 L1668.1 274.8 L1669.3 274.7 L1670.5 273.8 L1671.7 274.8 L1672.9 273.2 L1674.1 272.2 L1675.3 271.5 L1676.5 272.2 L1677.7 271.4 L1678.9 270.8 L1680.1 269.7 L1681.3 269.5 L1682.5 268.8 L1683.7 269.2 L1684.9 268.1 L1686.1 268.7 L1687.3 267.7 L1688.5 266.9 L1689.7 267.1 L1690.9 265.3 L1692.1 265.4 L1693.3 265.1 L1694.5 265.3 L1695.7 264.9 L1696.9 264.2 L1697.5 263.1" stroke="#1b7f80"/><path d="M1004.5 515.4 L1005.7 515.8 L1006.9 516.0 L1008.1 516.6 L1009.3 517.7 L1010.5 516.8 L1011.7 518.1 L1012.9 518.6 L1014.1 518.2 L1015.3 518.4 L1016.5 519.2 L1017.7 519.8 L1018.9 520.5 L1020.1 520.4 L1021.3 521.0 L1022.5 520.6 L1023.7 520.8 L1024.9 520.9 L1026.1 521.5 L1027.3 522.3 L1028.5 522.9 L1029.7 522.7 L1030.9 524.0 L1032.1 524.0 L1033.3 524.1 L1034.5 524.4 L1035.7 525.7 L1036.9 525.2 L1038.1 525.0 L1039.3 525.1 L1040.5 526.4 L1041.7 525.6 L1042.9 526.5 L1044.1 526.8 L1045.3 525.4 L1046.5 527.1 L1047.7 526.6 L1048.9 526.3 L1050.1 526.6 L1051.3 527.1 L1052.5 527.1 L1053.7 527.2 L1054.9 526.7 L1056.1 527.5 L1057.3 527.5 L1058.5 527.6 L1059.7 527.1 L1060.9 527.4 L1062.1 527.4 L1063.3 526.7 L1064.5 526.7 L1065.7 526.4 L1066.9 526.3 L1068.1 526.4 L1069.3 525.3 L1070.5 525.9 L1071.7 526.3 L1072.9 525.6 L1074.1 526.4 L1075.3 528.2 L1076.5 527.8 L1077.7 528.7 L1078.9 529.7 L1080.1 530.0 L1081.3 530.4 L1082.5 531.0 L1083.7 531.3 L1084.9 531.3 L1086.1 531.5 L1087.3 532.0 L1088.5 531.4 L1089.7 531.8 L1090.9 531.3 L1092.1 531.1 L1093.3 530.8 L1094.5 530.3 L1095.7 530.3 L1096.9 530.1 L1098.1 529.2 L1099.3 529.5 L1100.5 529.0 L1101.7 528.4 L1102.9 527.4 L1104.1 526.0 L1105.3 527.0 L1106.5 525.8 L1107.7 524.4 L1108.9 525.0 L1110.1 523.9 L1111.3 524.1 L1112.5 523.3 L1113.7 523.3 L1114.9 522.5 L1116.1 522.0 L1117.3 521.5 L1118.5 521.6 L1119.7 520.2 L1120.9 521.0 L1122.1 520.7 L1123.3 520.2 L1124.5 520.5 L1125.7 520.4 L1126.9 520.9 L1128.1 521.5 L1129.3 521.1 L1130.5 522.0 L1131.7 522.4 L1132.9 522.7 L1134.1 523.4 L1135.3 523.1 L1136.5 523.9 L1137.7 525.2 L1138.9 524.8 L1140.1 525.5 L1141.3 526.3 L1142.5 527.3 L1143.7 527.6 L1144.9 528.5 L1146.1 528.7 L1147.3 529.7 L1148.5 530.5 L1149.7 531.1 L1150.9 532.1 L1152.1 533.4 L1153.3 533.8 L1154.5 534.2 L1155.7 535.6 L1156.9 536.2 L1158.1 536.2 L1159.3 537.2 L1160.5 537.0 L1161.7 537.3 L1162.9 537.4 L1164.1 538.1 L1165.3 537.5 L1166.5 537.8 L1167.7 538.0 L1168.9 538.4 L1170.1 538.5 L1171.3 537.7 L1172.5 538.6 L1173.7 538.2 L1174.9 538.4 L1176.1 538.1 L1177.3 537.0 L1178.5 536.8 L1179.7 536.0 L1180.9 535.7 L1182.1 535.5 L1183.3 534.2 L1184.5 533.2 L1185.7 533.7 L1186.9 531.5 L1188.1 531.0 L1189.3 530.0 L1190.5 528.3 L1191.7 527.9 L1192.9 526.7 L1194.1 524.9 L1195.3 523.5 L1196.5 521.9 L1197.7 519.6 L1198.9 518.6 L1200.1 516.0 L1201.3 513.9 L1202.5 512.1 L1203.7 509.7 L1204.9 506.3 L1206.1 504.3 L1207.3 501.6 L1208.5 497.8 L1209.7 494.3 L1210.9 490.7 L1212.1 486.5 L1213.3 482.0 L1214.5 478.1 L1215.7 473.3 L1216.9 467.5 L1218.1 461.5 L1219.3 455.1 L1220.5 448.6 L1221.7 441.9 L1222.9 434.8 L1224.1 428.5 L1225.3 420.7 L1226.5 413.6 L1227.7 407.3 L1228.9 399.7 L1230.1 393.6 L1231.3 386.3 L1232.5 379.8 L1233.7 373.0 L1234.9 365.2 L1236.1 357.7 L1237.3 351.1 L1238.5 345.6 L1239.7 339.6 L1240.9 335.5 L1242.1 331.1 L1243.3 327.1 L1244.5 323.8 L1245.7 321.1 L1246.9 318.1 L1248.1 315.2 L1249.3 313.6 L1250.5 311.6 L1251.7 310.0 L1252.9 309.1 L1254.1 308.4 L1255.3 309.2 L1256.5 310.1 L1257.7 311.9 L1258.9 313.9 L1260.1 316.0 L1261.3 317.7 L1262.5 320.3 L1263.7 322.9 L1264.9 326.5 L1266.1 331.6 L1267.3 337.9 L1268.5 341.7 L1269.7 346.8 L1270.9 351.6 L1272.1 356.3 L1273.3 361.1 L1274.5 366.5 L1275.7 370.2 L1276.9 375.4 L1278.1 379.8 L1279.3 384.1 L1280.5 389.5 L1281.7 395.3 L1282.9 401.1 L1284.1 408.1 L1285.3 414.0 L1286.5 420.3 L1287.7 426.1 L1288.9 433.3 L1290.1 439.4 L1291.3 446.9 L1292.5 452.0 L1293.7 458.1 L1294.9 463.9 L1296.1 469.2 L1297.3 474.5 L1298.5 479.4 L1299.7 484.9 L1300.9 489.1 L1302.1 493.7 L1303.3 497.5 L1304.5 500.1 L1305.7 502.3 L1306.9 504.7 L1308.1 506.9 L1309.3 508.1 L1310.5 509.6 L1311.7 510.0 L1312.9 510.6 L1314.1 510.7 L1315.3 511.7 L1316.5 511.6 L1317.7 511.5 L1318.9 511.6 L1320.1 512.5 L1321.3 510.9 L1322.5 510.3 L1323.7 510.5 L1324.9 509.7 L1326.1 508.7 L1327.3 508.7 L1328.5 506.8 L1329.7 506.4 L1330.9 505.0 L1332.1 505.1 L1333.3 503.5 L1334.5 503.4 L1335.7 501.5 L1336.9 500.2 L1338.1 498.2 L1339.3 496.7 L1340.5 495.4 L1341.7 494.6 L1342.9 492.7 L1344.1 491.1 L1345.3 491.3 L1346.5 490.3 L1347.7 488.7 L1348.9 488.4 L1350.1 487.9 L1351.3 487.3 L1352.5 485.5 L1353.7 485.5 L1354.9 484.6 L1356.1 484.7 L1357.3 483.9 L1358.5 483.0 L1359.7 483.3 L1360.9 483.4 L1362.1 482.6 L1363.3 482.7 L1364.5 483.0 L1365.7 483.2 L1366.9 483.2 L1368.1 482.8 L1369.3 483.0 L1370.5 483.7 L1371.7 484.0 L1372.9 483.6 L1374.1 484.2 L1375.3 485.0 L1376.5 484.4 L1377.7 484.6 L1378.9 484.8 L1380.1 485.7 L1381.3 486.0 L1382.5 486.4 L1383.7 486.6 L1384.9 487.3 L1386.1 487.7 L1387.3 487.9 L1388.5 488.9 L1389.7 488.3 L1390.9 489.7 L1392.1 489.8 L1393.3 490.6 L1394.5 491.4 L1395.7 491.0 L1396.9 491.2 L1398.1 491.5 L1399.3 492.2 L1400.5 492.4 L1401.7 492.0 L1402.9 492.3 L1404.1 492.9 L1405.3 492.5 L1406.5 491.8 L1407.7 492.1 L1408.9 492.3 L1410.1 492.6 L1411.3 492.3 L1412.5 493.0 L1413.7 492.2 L1414.9 492.9 L1416.1 491.8 L1417.3 492.4 L1418.5 491.8 L1419.7 492.1 L1420.9 492.1 L1422.1 491.7 L1423.3 491.2 L1424.5 490.1 L1425.7 489.6 L1426.9 488.1 L1428.1 489.3 L1429.3 488.5 L1430.5 487.7 L1431.7 486.1 L1432.9 486.8 L1434.1 484.7 L1435.3 484.6 L1436.5 482.9 L1437.7 482.6 L1438.9 482.5 L1440.1 481.7 L1441.3 480.0 L1442.5 479.6 L1443.7 479.3 L1444.9 477.2 L1446.1 477.4 L1447.3 475.6 L1448.5 475.6 L1449.7 474.3 L1450.9 473.9 L1452.1 472.4 L1453.3 471.5 L1454.5 470.5 L1455.7 469.3 L1456.9 468.5 L1458.1 467.3 L1459.3 466.4 L1460.5 465.9 L1461.7 464.5 L1462.9 464.0 L1464.1 462.9 L1465.3 461.9 L1466.5 460.1 L1467.7 459.7 L1468.9 459.1 L1470.1 457.9 L1471.3 457.0 L1472.5 456.0 L1473.7 453.8 L1474.9 453.6 L1476.1 452.5 L1477.3 451.1 L1478.5 449.6 L1479.7 449.1 L1480.9 447.8 L1482.1 447.5 L1483.3 446.0 L1484.5 444.0 L1485.7 442.4 L1486.9 441.2 L1488.1 440.2 L1489.3 438.7 L1490.5 438.6 L1491.7 436.3 L1492.9 435.8 L1494.1 435.1 L1495.3 434.5 L1496.5 433.3 L1497.7 433.0 L1498.9 432.6 L1500.1 432.1 L1501.3 431.2 L1502.5 430.8 L1503.7 430.5 L1504.9 430.5 L1506.1 428.7 L1507.3 428.7 L1508.5 428.3 L1509.7 426.4 L1510.9 426.8 L1512.1 426.0 L1513.3 424.7 L1514.5 424.4 L1515.7 423.9 L1516.9 422.7 L1518.1 422.3 L1519.3 421.3 L1520.5 421.0 L1521.7 420.9 L1522.9 420.4 L1524.1 420.8 L1525.3 419.7 L1526.5 418.9 L1527.7 419.4 L1528.9 419.1 L1530.1 418.6 L1531.3 418.0 L1532.5 417.4 L1533.7 417.1 L1534.9 417.5 L1536.1 416.8 L1537.3 416.1 L1538.5 415.8 L1539.7 415.0 L1540.9 414.3 L1542.1 414.0 L1543.3 413.7 L1544.5 412.6 L1545.7 412.2 L1546.9 411.7 L1548.1 411.7 L1549.3 411.7 L1550.5 410.5 L1551.7 410.2 L1552.9 409.6 L1554.1 409.6 L1555.3 409.0 L1556.5 408.7 L1557.7 408.3 L1558.9 409.2 L1560.1 408.0 L1561.3 407.4 L1562.5 407.1 L1563.7 407.2 L1564.9 406.9 L1566.1 406.2 L1567.3 405.0 L1568.5 405.7 L1569.7 405.3 L1570.9 404.8 L1572.1 404.2 L1573.3 403.6 L1574.5 403.6 L1575.7 402.6 L1576.9 402.6 L1578.1 401.6 L1579.3 401.2 L1580.5 400.7 L1581.7 400.2 L1582.9 399.7 L1584.1 399.8 L1585.3 399.6 L1586.5 398.3 L1587.7 397.7 L1588.9 398.2 L1590.1 397.1 L1591.3 396.9 L1592.5 396.4 L1593.7 396.2 L1594.9 395.1 L1596.1 395.4 L1597.3 394.8 L1598.5 393.2 L1599.7 393.6 L1600.9 393.0 L1602.1 392.9 L1603.3 392.2 L1604.5 391.5 L1605.7 391.2 L1606.9 391.1 L1608.1 390.5 L1609.3 390.0 L1610.5 390.5 L1611.7 389.3 L1612.9 388.2 L1614.1 388.3 L1615.3 387.9 L1616.5 386.9 L1617.7 386.9 L1618.9 386.1 L1620.1 385.1 L1621.3 385.7 L1622.5 385.4 L1623.7 385.0 L1624.9 384.2 L1626.1 383.6 L1627.3 383.5 L1628.5 383.1 L1629.7 382.9 L1630.9 382.6 L1632.1 381.9 L1633.3 380.8 L1634.5 380.5 L1635.7 379.4 L1636.9 379.7 L1638.1 379.1 L1639.3 378.8 L1640.5 377.9 L1641.7 377.7 L1642.9 376.2 L1644.1 375.9 L1645.3 375.1 L1646.5 374.5 L1647.7 373.2 L1648.9 373.0 L1650.1 371.9 L1651.3 372.0 L1652.5 371.2 L1653.7 371.0 L1654.9 369.6 L1656.1 369.6 L1657.3 369.1 L1658.5 367.7 L1659.7 368.7 L1660.9 367.7 L1662.1 366.6 L1663.3 367.0 L1664.5 366.1 L1665.7 364.0 L1666.9 364.1 L1668.1 363.3 L1669.3 362.7 L1670.5 361.5 L1671.7 360.9 L1672.9 360.1 L1674.1 358.1 L1675.3 358.2 L1676.5 357.8 L1677.7 356.4 L1678.9 355.9 L1680.1 355.3 L1681.3 354.0 L1682.5 353.3 L1683.7 352.7 L1684.9 351.6 L1686.1 352.0 L1687.3 350.6 L1688.5 350.1 L1689.7 349.6 L1690.9 349.2 L1692.1 347.5 L1693.3 347.0 L1694.5 346.9 L1695.7 346.6 L1696.9 345.4 L1697.5 345.1" stroke="#ff7f1e"/></g><rect x="1004.5" y="62.3" width="693.0" height="497.5" fill="none" stroke="#2a2a2a" stroke-width="1.7"/><path d="M994.5 559.8H1004.5M994.5 427.1H1004.5M1697.5 427.1H1687.5M994.5 294.5H1004.5M1697.5 294.5H1687.5M994.5 161.8H1004.5M1697.5 161.8H1687.5M999.0 493.5H1004.5M1697.5 493.5H1692.0M999.0 360.8H1004.5M1697.5 360.8H1692.0M999.0 228.1H1004.5M1697.5 228.1H1692.0M999.0 95.5H1004.5M1697.5 95.5H1692.0M1004.5 559.8V569.8M1177.8 559.8V569.8M1177.8 62.3V72.3M1351.0 559.8V569.8M1351.0 62.3V72.3M1524.2 559.8V569.8M1524.2 62.3V72.3M1697.5 559.8V569.8M1091.1 559.8V565.3M1091.1 62.3V67.8M1264.4 559.8V565.3M1264.4 62.3V67.8M1437.6 559.8V565.3M1437.6 62.3V67.8M1610.9 559.8V565.3M1610.9 62.3V67.8" stroke="#2a2a2a" stroke-width="1.7" fill="none"/><text class="tl" x="987.5" y="569.3" text-anchor="end">0</text><text class="tl" x="987.5" y="436.6" text-anchor="end">2</text><text class="tl" x="987.5" y="304.0" text-anchor="end">4</text><text class="tl" x="987.5" y="171.3" text-anchor="end">6</text><text class="tl" x="1004.5" y="600.3" text-anchor="middle">200</text><text class="tl" x="1177.8" y="600.3" text-anchor="middle">300</text><text class="tl" x="1351.0" y="600.3" text-anchor="middle">400</text><text class="tl" x="1524.2" y="600.3" text-anchor="middle">500</text><text class="tl" x="1697.5" y="600.3" text-anchor="middle">600</text><text class="at" x="1351.0" y="657.2" text-anchor="middle">Wavelength (nm)</text><text class="at" transform="translate(926.00,325.65) rotate(-90)" text-anchor="middle">R %</text><text class="an" x="1170.0" y="110.2">342 nm</text><rect x="1385.7" y="96.4" width="268.8" height="74.7" fill="#fff" stroke="#8a8a8a" stroke-width="1.2"/><line x1="1396.9" y1="115.9" x2="1466.9" y2="115.9" stroke="#1b7f80" stroke-width="1.9" stroke-opacity="0.82"/><text class="lg" x="1476.2" y="126.2">PC261</text><line x1="1396.9" y1="153.7" x2="1466.9" y2="153.7" stroke="#ff7f1e" stroke-width="1.9" stroke-opacity="0.82"/><text class="lg" x="1476.2" y="164.0">GQD-PC261</text><text class="pl" x="882.5" y="53.35">(b)</text></g>
<clipPath id="clipc"><rect x="137.9" y="729.5" width="692.9" height="498.0"/></clipPath>
<g><line x1="454.1" y1="778.9" x2="454.1" y2="1227.5" stroke="#a4a4a4" stroke-width="1.5"/><g clip-path="url(#clipc)" fill="none" stroke-width="1.7" stroke-linejoin="round"><path d="M137.9 1198.6 L139.1 1197.4 L140.3 1197.9 L141.5 1196.6 L142.7 1198.6 L143.9 1198.4 L145.1 1199.3 L146.3 1199.1 L147.5 1200.3 L148.7 1198.2 L149.9 1201.1 L151.1 1200.5 L152.3 1198.4 L153.5 1199.8 L154.7 1199.4 L155.9 1196.8 L157.1 1199.4 L158.3 1197.8 L159.5 1198.1 L160.7 1197.5 L161.9 1197.6 L163.1 1198.1 L164.3 1197.9 L165.5 1195.6 L166.7 1197.1 L167.9 1195.4 L169.1 1195.3 L170.3 1196.3 L171.5 1197.7 L172.7 1197.2 L173.9 1195.2 L175.1 1194.7 L176.3 1194.2 L177.5 1195.2 L178.7 1196.0 L179.9 1194.3 L181.1 1194.9 L182.3 1194.0 L183.5 1195.4 L184.7 1189.8 L185.9 1189.2 L187.1 1191.7 L188.3 1192.6 L189.5 1190.6 L190.7 1191.5 L191.9 1188.8 L193.1 1188.4 L194.3 1188.9 L195.5 1191.0 L196.7 1190.6 L197.9 1188.2 L199.1 1189.4 L200.3 1187.9 L201.5 1188.8 L202.7 1186.9 L203.9 1188.3 L205.1 1187.1 L206.3 1188.0 L207.5 1187.0 L208.7 1186.6 L209.9 1187.9 L211.1 1187.1 L212.3 1187.5 L213.5 1186.8 L214.7 1188.2 L215.9 1185.9 L217.1 1188.2 L218.3 1189.0 L219.5 1186.5 L220.7 1189.4 L221.9 1189.7 L223.1 1187.2 L224.3 1184.4 L225.5 1183.8 L226.7 1185.6 L227.9 1187.9 L229.1 1185.2 L230.3 1184.5 L231.5 1181.9 L232.7 1180.1 L233.9 1180.8 L235.1 1177.7 L236.3 1178.4 L237.5 1178.9 L238.7 1177.6 L239.9 1177.8 L241.1 1175.8 L242.3 1176.8 L243.5 1175.8 L244.7 1172.0 L245.9 1172.0 L247.1 1171.5 L248.3 1172.5 L249.5 1170.8 L250.7 1169.6 L251.9 1168.2 L253.1 1167.6 L254.3 1166.7 L255.5 1163.0 L256.7 1160.0 L257.9 1161.4 L259.1 1158.5 L260.3 1157.1 L261.5 1155.2 L262.7 1152.4 L263.9 1150.4 L265.1 1151.9 L266.3 1150.6 L267.5 1148.8 L268.7 1146.5 L269.9 1145.1 L271.1 1142.8 L272.3 1141.9 L273.5 1140.0 L274.7 1138.4 L275.9 1137.8 L277.1 1137.9 L278.3 1132.9 L279.5 1133.9 L280.7 1132.4 L281.9 1129.2 L283.1 1129.0 L284.3 1127.3 L285.5 1125.3 L286.7 1123.8 L287.9 1121.7 L289.1 1122.8 L290.3 1122.0 L291.5 1120.2 L292.7 1117.6 L293.9 1116.8 L295.1 1115.8 L296.3 1113.9 L297.5 1113.2 L298.7 1112.6 L299.9 1110.9 L301.1 1109.1 L302.3 1108.4 L303.5 1108.4 L304.7 1107.2 L305.9 1106.6 L307.1 1106.9 L308.3 1105.5 L309.5 1104.5 L310.7 1104.2 L311.9 1105.0 L313.1 1102.6 L314.3 1103.9 L315.5 1103.3 L316.7 1102.2 L317.9 1102.0 L319.1 1103.0 L320.3 1102.4 L321.5 1102.0 L322.7 1103.5 L323.9 1102.7 L325.1 1103.0 L326.3 1103.3 L327.5 1103.8 L328.7 1104.8 L329.9 1105.5 L331.1 1107.0 L332.3 1108.4 L333.5 1109.6 L334.7 1111.3 L335.9 1113.2 L337.1 1114.5 L338.3 1115.5 L339.5 1118.0 L340.7 1118.5 L341.9 1120.7 L343.1 1123.0 L344.3 1123.6 L345.5 1126.7 L346.7 1126.7 L347.9 1127.6 L349.1 1129.1 L350.3 1130.1 L351.5 1131.4 L352.7 1132.1 L353.9 1133.2 L355.1 1132.9 L356.3 1133.4 L357.5 1133.0 L358.7 1133.9 L359.9 1133.4 L361.1 1132.8 L362.3 1134.2 L363.5 1132.8 L364.7 1132.4 L365.9 1131.9 L367.1 1132.1 L368.3 1130.4 L369.5 1130.2 L370.7 1129.9 L371.9 1129.4 L373.1 1126.9 L374.3 1125.4 L375.5 1123.1 L376.7 1122.4 L377.9 1119.5 L379.1 1117.8 L380.3 1116.1 L381.5 1113.8 L382.7 1112.4 L383.9 1110.0 L385.1 1109.2 L386.3 1106.5 L387.5 1104.5 L388.7 1102.9 L389.9 1099.8 L391.1 1098.6 L392.3 1096.4 L393.5 1093.1 L394.7 1091.2 L395.9 1088.1 L397.1 1085.6 L398.3 1082.1 L399.5 1078.3 L400.7 1075.2 L401.9 1070.8 L403.1 1066.6 L404.3 1061.8 L405.5 1056.2 L406.7 1049.9 L407.9 1042.7 L409.1 1036.7 L410.3 1029.1 L411.5 1021.8 L412.7 1012.9 L413.9 1004.5 L415.1 994.3 L416.3 983.7 L417.5 973.2 L418.7 961.4 L419.9 951.0 L421.1 938.5 L422.3 925.6 L423.5 914.1 L424.7 903.0 L425.9 892.6 L427.1 882.5 L428.3 873.5 L429.5 864.6 L430.7 856.1 L431.9 848.2 L433.1 840.7 L434.3 833.7 L435.5 827.6 L436.7 820.8 L437.9 814.5 L439.1 809.4 L440.3 804.4 L441.5 798.7 L442.7 793.9 L443.9 788.6 L445.1 783.5 L446.3 780.8 L447.5 778.9 L448.7 777.7 L449.9 775.1 L451.1 775.7 L452.3 775.4 L453.5 774.9 L454.7 776.1 L455.9 776.3 L457.1 777.3 L458.3 778.5 L459.5 780.2 L460.7 781.9 L461.9 784.7 L463.1 787.6 L464.3 790.4 L465.5 795.1 L466.7 799.6 L467.9 804.8 L469.1 811.1 L470.3 816.8 L471.5 822.5 L472.7 829.6 L473.9 836.1 L475.1 843.4 L476.3 851.0 L477.5 858.9 L478.7 867.6 L479.9 875.5 L481.1 883.8 L482.3 892.0 L483.5 900.5 L484.7 909.6 L485.9 918.2 L487.1 926.7 L488.3 936.3 L489.5 946.3 L490.7 956.9 L491.9 965.2 L493.1 974.1 L494.3 980.9 L495.5 988.8 L496.7 997.1 L497.9 1004.7 L499.1 1015.4 L500.3 1024.2 L501.5 1034.7 L502.7 1042.8 L503.9 1051.3 L505.1 1058.9 L506.3 1066.6 L507.5 1073.0 L508.7 1078.9 L509.9 1084.0 L511.1 1089.3 L512.3 1093.4 L513.5 1097.8 L514.7 1102.0 L515.9 1106.5 L517.1 1111.0 L518.3 1113.7 L519.5 1117.8 L520.7 1119.5 L521.9 1122.4 L523.1 1125.6 L524.3 1128.3 L525.5 1130.6 L526.7 1132.8 L527.9 1133.2 L529.1 1134.2 L530.3 1134.1 L531.5 1133.1 L532.7 1134.0 L533.9 1134.3 L535.1 1134.6 L536.3 1134.8 L537.5 1134.4 L538.7 1134.6 L539.9 1132.8 L541.1 1132.2 L542.3 1131.4 L543.5 1129.4 L544.7 1129.1 L545.9 1127.8 L547.1 1126.0 L548.3 1124.6 L549.5 1123.0 L550.7 1121.4 L551.9 1120.2 L553.1 1118.2 L554.3 1115.7 L555.5 1113.9 L556.7 1112.9 L557.9 1109.7 L559.1 1108.1 L560.3 1106.5 L561.5 1104.7 L562.7 1103.3 L563.9 1100.9 L565.1 1100.5 L566.3 1097.4 L567.5 1095.9 L568.7 1094.3 L569.9 1092.2 L571.1 1090.9 L572.3 1089.2 L573.5 1087.5 L574.7 1085.6 L575.9 1084.3 L577.1 1083.4 L578.3 1081.8 L579.5 1080.7 L580.7 1079.5 L581.9 1078.3 L583.1 1077.0 L584.3 1076.2 L585.5 1075.2 L586.7 1074.4 L587.9 1073.1 L589.1 1071.8 L590.3 1070.9 L591.5 1070.6 L592.7 1068.9 L593.9 1068.5 L595.1 1068.3 L596.3 1067.1 L597.5 1066.2 L598.7 1066.4 L599.9 1064.3 L601.1 1064.9 L602.3 1064.4 L603.5 1064.0 L604.7 1064.3 L605.9 1064.2 L607.1 1063.7 L608.3 1063.2 L609.5 1062.8 L610.7 1062.3 L611.9 1062.2 L613.1 1061.4 L614.3 1061.7 L615.5 1062.0 L616.7 1061.7 L617.9 1062.0 L619.1 1061.1 L620.3 1061.6 L621.5 1061.5 L622.7 1062.4 L623.9 1062.0 L625.1 1062.1 L626.3 1061.9 L627.5 1062.3 L628.7 1062.3 L629.9 1062.6 L631.1 1063.9 L632.3 1062.8 L633.5 1063.4 L634.7 1063.4 L635.9 1064.6 L637.1 1064.0 L638.3 1064.3 L639.5 1065.2 L640.7 1066.0 L641.9 1065.8 L643.1 1065.8 L644.3 1065.3 L645.5 1065.2 L646.7 1067.0 L647.9 1067.3 L649.1 1068.1 L650.3 1068.1 L651.5 1068.2 L652.7 1069.1 L653.9 1069.6 L655.1 1069.0 L656.3 1069.9 L657.5 1070.3 L658.7 1069.9 L659.9 1070.7 L661.1 1070.7 L662.3 1071.4 L663.5 1071.6 L664.7 1070.5 L665.9 1071.5 L667.1 1072.4 L668.3 1072.2 L669.5 1071.8 L670.7 1072.2 L671.9 1072.2 L673.1 1072.9 L674.3 1072.4 L675.5 1073.5 L676.7 1073.5 L677.9 1073.9 L679.1 1073.8 L680.3 1073.9 L681.5 1073.9 L682.7 1073.8 L683.9 1072.9 L685.1 1074.0 L686.3 1073.5 L687.5 1072.9 L688.7 1074.5 L689.9 1073.9 L691.1 1073.3 L692.3 1074.0 L693.5 1073.9 L694.7 1073.6 L695.9 1073.9 L697.1 1072.6 L698.3 1073.2 L699.5 1072.1 L700.7 1072.5 L701.9 1072.3 L703.1 1071.7 L704.3 1072.7 L705.5 1070.8 L706.7 1070.7 L707.9 1071.0 L709.1 1070.6 L710.3 1071.3 L711.5 1070.4 L712.7 1071.0 L713.9 1070.1 L715.1 1070.5 L716.3 1070.3 L717.5 1069.8 L718.7 1069.9 L719.9 1069.5 L721.1 1070.0 L722.3 1069.9 L723.5 1068.6 L724.7 1068.6 L725.9 1068.6 L727.1 1068.1 L728.3 1068.3 L729.5 1068.2 L730.7 1066.0 L731.9 1066.3 L733.1 1066.6 L734.3 1065.9 L735.5 1065.1 L736.7 1064.9 L737.9 1064.6 L739.1 1064.8 L740.3 1063.4 L741.5 1063.5 L742.7 1063.6 L743.9 1063.0 L745.1 1062.1 L746.3 1061.7 L747.5 1060.7 L748.7 1060.3 L749.9 1060.2 L751.1 1060.5 L752.3 1060.0 L753.5 1059.8 L754.7 1059.2 L755.9 1058.7 L757.1 1058.0 L758.3 1057.2 L759.5 1057.6 L760.7 1056.5 L761.9 1055.5 L763.1 1056.0 L764.3 1055.4 L765.5 1056.0 L766.7 1054.5 L767.9 1054.3 L769.1 1053.3 L770.3 1053.6 L771.5 1053.0 L772.7 1052.2 L773.9 1052.2 L775.1 1051.1 L776.3 1051.5 L777.5 1050.6 L778.7 1050.5 L779.9 1049.6 L781.1 1049.2 L782.3 1049.0 L783.5 1049.0 L784.7 1048.2 L785.9 1046.8 L787.1 1047.5 L788.3 1046.7 L789.5 1046.5 L790.7 1046.3 L791.9 1045.6 L793.1 1044.5 L794.3 1044.2 L795.5 1044.0 L796.7 1043.7 L797.9 1042.5 L799.1 1042.1 L800.3 1041.5 L801.5 1041.6 L802.7 1040.7 L803.9 1041.4 L805.1 1040.4 L806.3 1040.1 L807.5 1039.4 L808.7 1038.5 L809.9 1037.3 L811.1 1038.5 L812.3 1037.6 L813.5 1036.3 L814.7 1037.8 L815.9 1036.5 L817.1 1036.5 L818.3 1035.3 L819.5 1034.3 L820.7 1034.3 L821.9 1034.5 L823.1 1033.0 L824.3 1033.2 L825.5 1033.5 L826.7 1033.1 L827.9 1032.3 L829.1 1030.9 L830.3 1031.5 L830.8 1031.9" stroke="#1b7f80"/><path d="M137.9 1219.4 L139.1 1217.6 L140.3 1217.2 L141.5 1217.4 L142.7 1216.8 L143.9 1216.2 L145.1 1217.6 L146.3 1217.0 L147.5 1216.0 L148.7 1216.4 L149.9 1216.5 L151.1 1216.9 L152.3 1217.3 L153.5 1216.8 L154.7 1216.5 L155.9 1216.9 L157.1 1216.6 L158.3 1216.8 L159.5 1216.4 L160.7 1216.2 L161.9 1217.2 L163.1 1216.6 L164.3 1216.8 L165.5 1216.5 L166.7 1216.5 L167.9 1216.6 L169.1 1217.0 L170.3 1217.3 L171.5 1217.0 L172.7 1216.6 L173.9 1218.0 L175.1 1217.2 L176.3 1217.3 L177.5 1216.7 L178.7 1216.8 L179.9 1217.2 L181.1 1216.3 L182.3 1216.7 L183.5 1217.2 L184.7 1218.1 L185.9 1217.4 L187.1 1216.8 L188.3 1216.8 L189.5 1217.8 L190.7 1217.1 L191.9 1217.4 L193.1 1218.4 L194.3 1217.7 L195.5 1217.6 L196.7 1217.5 L197.9 1218.4 L199.1 1218.4 L200.3 1217.7 L201.5 1217.5 L202.7 1218.1 L203.9 1218.8 L205.1 1218.5 L206.3 1217.9 L207.5 1218.5 L208.7 1218.7 L209.9 1218.3 L211.1 1218.3 L212.3 1218.2 L213.5 1217.8 L214.7 1217.6 L215.9 1217.2 L217.1 1217.1 L218.3 1216.7 L219.5 1217.4 L220.7 1217.2 L221.9 1216.9 L223.1 1216.8 L224.3 1216.3 L225.5 1215.6 L226.7 1215.6 L227.9 1215.0 L229.1 1214.6 L230.3 1213.4 L231.5 1213.5 L232.7 1213.4 L233.9 1212.6 L235.1 1211.8 L236.3 1210.9 L237.5 1210.6 L238.7 1210.8 L239.9 1209.3 L241.1 1209.3 L242.3 1207.9 L243.5 1207.8 L244.7 1206.4 L245.9 1206.0 L247.1 1205.3 L248.3 1204.5 L249.5 1203.0 L250.7 1202.3 L251.9 1201.2 L253.1 1200.6 L254.3 1199.6 L255.5 1198.7 L256.7 1198.2 L257.9 1196.7 L259.1 1196.0 L260.3 1195.2 L261.5 1194.6 L262.7 1193.5 L263.9 1193.2 L265.1 1191.8 L266.3 1192.1 L267.5 1190.6 L268.7 1190.3 L269.9 1188.6 L271.1 1188.0 L272.3 1187.4 L273.5 1187.2 L274.7 1185.7 L275.9 1185.3 L277.1 1183.5 L278.3 1183.5 L279.5 1181.6 L280.7 1180.2 L281.9 1179.2 L283.1 1179.1 L284.3 1178.0 L285.5 1177.3 L286.7 1176.3 L287.9 1175.7 L289.1 1175.3 L290.3 1173.8 L291.5 1173.3 L292.7 1172.3 L293.9 1171.1 L295.1 1170.9 L296.3 1170.9 L297.5 1169.3 L298.7 1169.9 L299.9 1168.6 L301.1 1168.0 L302.3 1167.7 L303.5 1166.8 L304.7 1166.4 L305.9 1166.6 L307.1 1165.4 L308.3 1165.4 L309.5 1164.6 L310.7 1164.8 L311.9 1165.7 L313.1 1164.7 L314.3 1163.6 L315.5 1163.1 L316.7 1163.9 L317.9 1163.8 L319.1 1163.2 L320.3 1164.0 L321.5 1163.6 L322.7 1163.9 L323.9 1164.1 L325.1 1164.4 L326.3 1164.1 L327.5 1164.3 L328.7 1165.4 L329.9 1165.2 L331.1 1165.2 L332.3 1166.2 L333.5 1166.5 L334.7 1167.6 L335.9 1169.7 L337.1 1170.3 L338.3 1170.7 L339.5 1171.7 L340.7 1173.5 L341.9 1174.4 L343.1 1176.1 L344.3 1177.5 L345.5 1179.2 L346.7 1180.5 L347.9 1181.3 L349.1 1183.1 L350.3 1184.2 L351.5 1185.1 L352.7 1186.3 L353.9 1186.2 L355.1 1187.3 L356.3 1187.6 L357.5 1187.8 L358.7 1188.5 L359.9 1187.9 L361.1 1188.7 L362.3 1186.5 L363.5 1187.7 L364.7 1186.5 L365.9 1185.5 L367.1 1185.5 L368.3 1184.8 L369.5 1184.4 L370.7 1183.6 L371.9 1181.7 L373.1 1180.8 L374.3 1179.6 L375.5 1178.0 L376.7 1176.3 L377.9 1175.4 L379.1 1173.4 L380.3 1171.0 L381.5 1169.7 L382.7 1167.4 L383.9 1165.3 L385.1 1163.5 L386.3 1161.3 L387.5 1159.0 L388.7 1157.0 L389.9 1155.3 L391.1 1152.9 L392.3 1151.5 L393.5 1150.2 L394.7 1147.7 L395.9 1145.8 L397.1 1143.6 L398.3 1142.0 L399.5 1138.7 L400.7 1136.4 L401.9 1132.5 L403.1 1129.2 L404.3 1125.4 L405.5 1120.9 L406.7 1116.3 L407.9 1111.9 L409.1 1105.1 L410.3 1098.8 L411.5 1092.4 L412.7 1085.9 L413.9 1082.3 L415.1 1077.7 L416.3 1073.6 L417.5 1069.6 L418.7 1065.2 L419.9 1060.6 L421.1 1055.2 L422.3 1047.2 L423.5 1039.2 L424.7 1032.1 L425.9 1026.2 L427.1 1019.0 L428.3 1013.4 L429.5 1006.2 L430.7 1000.4 L431.9 994.9 L433.1 989.9 L434.3 985.2 L435.5 980.4 L436.7 975.3 L437.9 971.7 L439.1 968.7 L440.3 966.1 L441.5 964.3 L442.7 962.2 L443.9 959.9 L445.1 958.7 L446.3 957.2 L447.5 956.9 L448.7 955.3 L449.9 955.4 L451.1 955.1 L452.3 955.1 L453.5 954.6 L454.7 954.8 L455.9 955.0 L457.1 955.3 L458.3 957.0 L459.5 957.7 L460.7 959.5 L461.9 961.0 L463.1 962.4 L464.3 964.5 L465.5 967.8 L466.7 970.4 L467.9 973.7 L469.1 976.9 L470.3 980.5 L471.5 983.8 L472.7 986.8 L473.9 991.1 L475.1 996.1 L476.3 999.4 L477.5 1004.5 L478.7 1010.1 L479.9 1015.0 L481.1 1019.6 L482.3 1025.1 L483.5 1030.1 L484.7 1036.1 L485.9 1041.1 L487.1 1046.4 L488.3 1051.4 L489.5 1055.4 L490.7 1060.8 L491.9 1065.6 L493.1 1069.9 L494.3 1074.0 L495.5 1078.5 L496.7 1083.3 L497.9 1087.1 L499.1 1090.6 L500.3 1095.3 L501.5 1098.9 L502.7 1102.3 L503.9 1105.4 L505.1 1109.8 L506.3 1112.5 L507.5 1116.4 L508.7 1120.0 L509.9 1123.0 L511.1 1125.2 L512.3 1128.3 L513.5 1131.8 L514.7 1134.7 L515.9 1137.0 L517.1 1139.8 L518.3 1143.3 L519.5 1145.7 L520.7 1147.4 L521.9 1148.9 L523.1 1150.7 L524.3 1151.3 L525.5 1153.1 L526.7 1154.2 L527.9 1155.5 L529.1 1155.8 L530.3 1155.2 L531.5 1156.6 L532.7 1156.0 L533.9 1154.8 L535.1 1154.7 L536.3 1155.4 L537.5 1154.2 L538.7 1154.7 L539.9 1153.6 L541.1 1153.0 L542.3 1153.9 L543.5 1153.4 L544.7 1152.0 L545.9 1152.0 L547.1 1150.8 L548.3 1150.0 L549.5 1148.9 L550.7 1148.4 L551.9 1147.9 L553.1 1147.0 L554.3 1146.4 L555.5 1145.4 L556.7 1144.2 L557.9 1142.9 L559.1 1142.6 L560.3 1141.8 L561.5 1140.5 L562.7 1139.4 L563.9 1138.7 L565.1 1137.5 L566.3 1136.9 L567.5 1136.5 L568.7 1136.1 L569.9 1134.8 L571.1 1133.7 L572.3 1132.9 L573.5 1132.1 L574.7 1131.9 L575.9 1130.6 L577.1 1129.0 L578.3 1128.9 L579.5 1127.4 L580.7 1127.0 L581.9 1126.5 L583.1 1125.3 L584.3 1124.8 L585.5 1124.5 L586.7 1122.9 L587.9 1122.9 L589.1 1122.0 L590.3 1121.2 L591.5 1119.8 L592.7 1119.8 L593.9 1118.7 L595.1 1118.1 L596.3 1117.1 L597.5 1116.9 L598.7 1115.1 L599.9 1115.1 L601.1 1114.6 L602.3 1114.6 L603.5 1112.2 L604.7 1111.6 L605.9 1111.3 L607.1 1110.8 L608.3 1109.7 L609.5 1109.6 L610.7 1108.6 L611.9 1108.0 L613.1 1106.8 L614.3 1106.9 L615.5 1106.1 L616.7 1106.1 L617.9 1105.2 L619.1 1105.0 L620.3 1104.0 L621.5 1103.0 L622.7 1103.1 L623.9 1101.7 L625.1 1101.3 L626.3 1101.2 L627.5 1101.3 L628.7 1101.0 L629.9 1099.5 L631.1 1099.7 L632.3 1099.9 L633.5 1098.9 L634.7 1098.0 L635.9 1098.3 L637.1 1098.4 L638.3 1097.2 L639.5 1096.8 L640.7 1097.4 L641.9 1096.5 L643.1 1095.3 L644.3 1095.6 L645.5 1095.4 L646.7 1094.3 L647.9 1094.0 L649.1 1093.8 L650.3 1093.2 L651.5 1093.2 L652.7 1092.6 L653.9 1092.0 L655.1 1091.8 L656.3 1090.5 L657.5 1089.8 L658.7 1089.1 L659.9 1088.9 L661.1 1088.2 L662.3 1088.0 L663.5 1088.0 L664.7 1087.6 L665.9 1086.7 L667.1 1086.1 L668.3 1085.4 L669.5 1084.9 L670.7 1083.9 L671.9 1083.2 L673.1 1082.4 L674.3 1082.1 L675.5 1081.7 L676.7 1080.9 L677.9 1080.4 L679.1 1080.5 L680.3 1079.2 L681.5 1078.7 L682.7 1077.8 L683.9 1077.4 L685.1 1076.1 L686.3 1076.0 L687.5 1075.4 L688.7 1074.8 L689.9 1073.1 L691.1 1072.9 L692.3 1072.8 L693.5 1071.9 L694.7 1070.3 L695.9 1069.9 L697.1 1069.1 L698.3 1069.1 L699.5 1068.6 L700.7 1067.6 L701.9 1066.5 L703.1 1066.7 L704.3 1065.3 L705.5 1066.0 L706.7 1064.8 L707.9 1064.3 L709.1 1063.8 L710.3 1063.8 L711.5 1063.4 L712.7 1063.1 L713.9 1062.4 L715.1 1062.0 L716.3 1062.1 L717.5 1061.9 L718.7 1061.1 L719.9 1060.8 L721.1 1060.6 L722.3 1059.8 L723.5 1059.3 L724.7 1058.7 L725.9 1058.7 L727.1 1059.2 L728.3 1058.0 L729.5 1057.4 L730.7 1057.5 L731.9 1057.4 L733.1 1057.2 L734.3 1056.4 L735.5 1056.6 L736.7 1056.0 L737.9 1055.7 L739.1 1055.5 L740.3 1055.0 L741.5 1054.9 L742.7 1055.1 L743.9 1054.1 L745.1 1054.1 L746.3 1054.2 L747.5 1053.8 L748.7 1053.5 L749.9 1052.7 L751.1 1052.3 L752.3 1052.4 L753.5 1052.0 L754.7 1051.3 L755.9 1051.7 L757.1 1051.6 L758.3 1051.8 L759.5 1051.0 L760.7 1050.8 L761.9 1050.4 L763.1 1050.7 L764.3 1050.4 L765.5 1051.2 L766.7 1050.1 L767.9 1050.8 L769.1 1050.1 L770.3 1049.7 L771.5 1050.2 L772.7 1050.1 L773.9 1050.5 L775.1 1050.1 L776.3 1049.8 L777.5 1049.6 L778.7 1049.4 L779.9 1049.6 L781.1 1049.7 L782.3 1049.3 L783.5 1049.3 L784.7 1049.8 L785.9 1049.3 L787.1 1049.6 L788.3 1049.6 L789.5 1049.5 L790.7 1050.4 L791.9 1050.3 L793.1 1050.0 L794.3 1049.6 L795.5 1050.2 L796.7 1050.2 L797.9 1050.3 L799.1 1050.4 L800.3 1050.2 L801.5 1051.4 L802.7 1050.8 L803.9 1050.6 L805.1 1050.8 L806.3 1050.6 L807.5 1050.5 L808.7 1050.5 L809.9 1051.0 L811.1 1051.4 L812.3 1051.5 L813.5 1051.1 L814.7 1051.2 L815.9 1050.5 L817.1 1050.4 L818.3 1051.1 L819.5 1051.6 L820.7 1051.8 L821.9 1051.3 L823.1 1050.9 L824.3 1051.3 L825.5 1051.4 L826.7 1051.1 L827.9 1051.4 L829.1 1051.9 L830.3 1051.4 L830.8 1051.6" stroke="#ff7f1e"/></g><rect x="137.9" y="729.5" width="692.9" height="498.0" fill="none" stroke="#2a2a2a" stroke-width="1.7"/><path d="M127.9 1227.5H137.9M127.9 1137.0H137.9M830.8 1137.0H820.8M127.9 1046.4H137.9M830.8 1046.4H820.8M127.9 955.9H137.9M830.8 955.9H820.8M127.9 865.3H137.9M830.8 865.3H820.8M127.9 774.8H137.9M830.8 774.8H820.8M132.4 1182.2H137.9M830.8 1182.2H825.3M132.4 1091.7H137.9M830.8 1091.7H825.3M132.4 1001.1H137.9M830.8 1001.1H825.3M132.4 910.6H137.9M830.8 910.6H825.3M132.4 820.0H137.9M830.8 820.0H825.3M132.4 729.5H137.9M137.9 1227.5V1237.5M311.1 1227.5V1237.5M311.1 729.5V739.5M484.4 1227.5V1237.5M484.4 729.5V739.5M657.6 1227.5V1237.5M657.6 729.5V739.5M830.8 1227.5V1237.5M224.5 1227.5V1233.0M224.5 729.5V735.0M397.7 1227.5V1233.0M397.7 729.5V735.0M571.0 1227.5V1233.0M571.0 729.5V735.0M744.2 1227.5V1233.0M744.2 729.5V735.0" stroke="#2a2a2a" stroke-width="1.7" fill="none"/><text class="tl" x="120.9" y="1237.0" text-anchor="end">0</text><text class="tl" x="120.9" y="1146.5" text-anchor="end">2</text><text class="tl" x="120.9" y="1055.9" text-anchor="end">4</text><text class="tl" x="120.9" y="965.4" text-anchor="end">6</text><text class="tl" x="120.9" y="874.8" text-anchor="end">8</text><text class="tl" x="120.9" y="784.3" text-anchor="end">10</text><text class="tl" x="137.9" y="1268.0" text-anchor="middle">200</text><text class="tl" x="311.1" y="1268.0" text-anchor="middle">300</text><text class="tl" x="484.4" y="1268.0" text-anchor="middle">400</text><text class="tl" x="657.6" y="1268.0" text-anchor="middle">500</text><text class="tl" x="830.8" y="1268.0" text-anchor="middle">600</text><text class="at" x="484.3" y="1324.9" text-anchor="middle">Wavelength (nm)</text><text class="at" transform="translate(41.55,989.35) rotate(-90)" text-anchor="middle">R %</text><text class="an" x="322.0" y="785.1">382 nm</text><rect x="518.5" y="763.5" width="269.7" height="74.2" fill="#fff" stroke="#8a8a8a" stroke-width="1.2"/><line x1="529.7" y1="783.0" x2="599.7" y2="783.0" stroke="#1b7f80" stroke-width="1.9" stroke-opacity="0.82"/><text class="lg" x="609.0" y="793.3">PC300</text><line x1="529.7" y1="820.8" x2="599.7" y2="820.8" stroke="#ff7f1e" stroke-width="1.9" stroke-opacity="0.82"/><text class="lg" x="609.0" y="831.1">GQD-PC300</text><text class="pl" x="17.05" y="704.75">(c)</text></g>
<clipPath id="clipd"><rect x="1004.6" y="729.5" width="692.9" height="498.0"/></clipPath>
<g><line x1="1389.0" y1="870" x2="1389.0" y2="1227.5" stroke="#999999" stroke-width="1.4"/><g clip-path="url(#clipd)" fill="none" stroke-width="1.7" stroke-linejoin="round"><path d="M1004.6 1077.2 L1005.5 1081.8 L1006.3 1081.1 L1007.2 1082.8 L1008.1 1077.4 L1009.0 1084.9 L1009.8 1082.0 L1010.7 1078.3 L1011.6 1077.9 L1012.4 1078.2 L1013.3 1080.2 L1014.2 1086.1 L1015.0 1085.4 L1015.9 1081.2 L1016.8 1081.4 L1017.7 1089.1 L1018.5 1086.2 L1019.4 1081.2 L1020.3 1083.4 L1021.1 1082.8 L1022.0 1084.8 L1022.9 1087.3 L1023.7 1084.0 L1024.6 1086.2 L1025.5 1087.0 L1026.4 1087.9 L1027.2 1083.8 L1028.1 1085.2 L1029.0 1092.1 L1029.8 1085.7 L1030.7 1086.5 L1031.6 1088.0 L1032.4 1085.1 L1033.3 1085.8 L1034.2 1092.4 L1035.1 1091.4 L1035.9 1084.1 L1036.8 1087.8 L1037.7 1083.8 L1038.5 1083.1 L1039.4 1087.9 L1040.3 1092.6 L1041.1 1087.6 L1042.0 1092.3 L1042.9 1084.3 L1043.8 1087.8 L1044.6 1087.3 L1045.5 1087.1 L1046.4 1089.7 L1047.2 1088.1 L1048.1 1084.4 L1049.0 1081.8 L1049.8 1084.2 L1050.7 1085.9 L1051.6 1084.4 L1052.5 1081.9 L1053.3 1081.8 L1054.2 1091.0 L1055.1 1094.3 L1055.9 1095.2 L1056.8 1091.8 L1057.7 1080.9 L1058.5 1073.6 L1059.4 1071.3 L1060.3 1074.8 L1061.2 1072.7 L1062.0 1073.5 L1062.9 1071.4 L1063.8 1068.3 L1064.6 1065.5 L1065.5 1065.3 L1066.4 1064.0 L1067.2 1065.6 L1068.1 1065.6 L1069.0 1068.2 L1069.9 1068.4 L1070.7 1063.7 L1071.6 1064.8 L1072.5 1059.6 L1073.3 1061.0 L1074.2 1059.4 L1075.1 1063.0 L1075.9 1060.6 L1076.8 1059.4 L1077.7 1061.2 L1078.6 1054.7 L1079.4 1058.1 L1080.3 1055.8 L1081.2 1053.7 L1082.0 1042.2 L1082.9 1042.4 L1083.8 1035.6 L1084.6 1044.9 L1085.5 1038.7 L1086.4 1038.8 L1087.3 1032.2 L1088.1 1035.3 L1089.0 1033.4 L1089.9 1030.9 L1090.7 1030.6 L1091.6 1031.0 L1092.5 1030.9 L1093.3 1027.7 L1094.2 1037.4 L1095.1 1032.8 L1096.0 1033.1 L1096.8 1032.9 L1097.7 1031.6 L1098.6 1032.0 L1099.4 1034.2 L1100.3 1032.3 L1101.2 1038.2 L1102.0 1034.6 L1102.9 1040.4 L1103.8 1035.0 L1104.7 1039.9 L1105.5 1042.0 L1106.4 1044.4 L1107.3 1044.2 L1108.1 1035.5 L1109.0 1034.7 L1109.9 1039.7 L1110.7 1031.4 L1111.6 1026.1 L1112.5 1033.8 L1113.4 1032.3 L1114.2 1027.3 L1115.1 1030.6 L1116.0 1038.3 L1116.8 1034.6 L1117.7 1036.3 L1118.6 1038.8 L1119.4 1046.2 L1120.3 1038.2 L1121.2 1045.9 L1122.1 1046.3 L1122.9 1048.7 L1123.8 1050.8 L1124.7 1049.7 L1125.5 1052.6 L1126.4 1053.2 L1127.3 1057.3 L1128.1 1046.2 L1129.0 1053.8 L1129.9 1055.2 L1130.8 1051.1 L1131.6 1060.5 L1132.5 1058.2 L1133.4 1051.5 L1134.2 1056.5 L1135.1 1060.1 L1136.0 1058.5 L1136.8 1056.1 L1137.7 1060.8 L1138.6 1060.1 L1139.5 1056.4 L1140.3 1059.0 L1141.2 1064.2 L1142.1 1064.1 L1142.9 1057.3 L1143.8 1058.5 L1144.7 1065.2 L1145.5 1062.5 L1146.4 1060.4 L1147.3 1058.7 L1148.2 1059.7 L1149.0 1061.3 L1149.9 1049.8 L1150.8 1059.4 L1151.6 1052.8 L1152.5 1050.7 L1153.4 1052.1 L1154.2 1050.1 L1155.1 1049.7 L1156.0 1052.5 L1156.9 1050.3 L1157.7 1054.3 L1158.6 1045.2 L1159.5 1052.3 L1160.3 1045.0 L1161.2 1048.8 L1162.1 1046.4 L1162.9 1049.9 L1163.8 1041.8 L1164.7 1045.6 L1165.6 1049.7 L1166.4 1048.0 L1167.3 1042.3 L1168.2 1044.7 L1169.0 1044.8 L1169.9 1042.2 L1170.8 1043.2 L1171.6 1041.5 L1172.5 1031.6 L1173.4 1037.9 L1174.3 1043.3 L1175.1 1031.1 L1176.0 1028.7 L1176.9 1026.7 L1177.7 1022.3 L1178.6 1021.0 L1179.5 1019.7 L1180.3 1022.3 L1181.2 1016.5 L1182.1 1016.8 L1183.0 1014.1 L1183.8 1011.5 L1184.7 1010.9 L1185.6 1008.7 L1186.4 1012.3 L1187.3 1007.7 L1188.2 1003.7 L1189.0 1004.9 L1189.9 1007.3 L1190.8 1001.9 L1191.7 999.6 L1192.5 998.4 L1193.4 995.3 L1194.3 992.3 L1195.1 995.1 L1196.0 984.1 L1196.9 987.8 L1197.7 985.3 L1198.6 984.8 L1199.5 982.1 L1200.4 984.1 L1201.2 983.3 L1202.1 978.8 L1203.0 974.1 L1203.8 973.3 L1204.7 972.3 L1205.6 969.8 L1206.4 968.1 L1207.3 973.7 L1208.2 972.2 L1209.1 968.5 L1209.9 968.8 L1210.8 970.9 L1211.7 969.6 L1212.5 972.4 L1213.4 973.1 L1214.3 971.9 L1215.1 970.3 L1216.0 971.9 L1216.9 969.9 L1217.8 973.1 L1218.6 978.2 L1219.5 974.3 L1220.4 977.6 L1221.2 979.3 L1222.1 980.8 L1223.0 975.4 L1223.8 978.0 L1224.7 977.5 L1225.6 981.6 L1226.5 981.3 L1227.3 977.3 L1228.2 978.5 L1229.1 980.5 L1229.9 984.0 L1230.8 979.3 L1231.7 982.6 L1232.5 978.5 L1233.4 977.8 L1234.3 981.5 L1235.2 977.3 L1236.0 974.2 L1236.9 977.9 L1237.8 974.6 L1238.6 968.8 L1239.5 971.1 L1240.4 968.6 L1241.2 967.6 L1242.1 963.5 L1243.0 964.0 L1243.9 959.8 L1244.7 959.1 L1245.6 964.3 L1246.5 961.1 L1247.3 961.9 L1248.2 960.5 L1249.1 959.5 L1249.9 959.3 L1250.8 961.1 L1251.7 959.6 L1252.6 957.1 L1253.4 962.5 L1254.3 963.1 L1255.2 962.1 L1256.0 963.7 L1256.9 961.4 L1257.8 961.4 L1258.6 964.0 L1259.5 963.1 L1260.4 960.2 L1261.3 963.1 L1262.1 964.7 L1263.0 970.2 L1263.9 967.3 L1264.7 967.2 L1265.6 968.0 L1266.5 971.6 L1267.3 972.8 L1268.2 976.3 L1269.1 976.9 L1270.0 977.9 L1270.8 982.4 L1271.7 985.0 L1272.6 985.3 L1273.4 982.8 L1274.3 985.8 L1275.2 988.6 L1276.0 988.0 L1276.9 986.6 L1277.8 987.4 L1278.7 987.8 L1279.5 989.5 L1280.4 988.7 L1281.3 990.7 L1282.1 990.4 L1283.0 990.5 L1283.9 991.8 L1284.7 990.4 L1285.6 985.1 L1286.5 982.0 L1287.4 981.8 L1288.2 978.1 L1289.1 975.3 L1290.0 975.9 L1290.8 974.3 L1291.7 975.8 L1292.6 975.6 L1293.4 977.6 L1294.3 975.4 L1295.2 975.3 L1296.1 976.5 L1296.9 974.4 L1297.8 970.4 L1298.7 971.1 L1299.5 968.8 L1300.4 968.5 L1301.3 969.9 L1302.1 971.9 L1303.0 966.5 L1303.9 964.1 L1304.8 961.0 L1305.6 961.9 L1306.5 963.6 L1307.4 958.2 L1308.2 960.0 L1309.1 960.2 L1310.0 959.8 L1310.8 961.9 L1311.7 956.3 L1312.6 955.7 L1313.5 951.7 L1314.3 951.2 L1315.2 948.5 L1316.1 948.6 L1316.9 947.3 L1317.8 945.8 L1318.7 944.1 L1319.5 939.8 L1320.4 937.3 L1321.3 936.1 L1322.2 936.3 L1323.0 934.9 L1323.9 932.4 L1324.8 934.5 L1325.6 930.7 L1326.5 931.6 L1327.4 929.9 L1328.2 930.7 L1329.1 930.1 L1330.0 926.6 L1330.9 928.1 L1331.7 929.8 L1332.6 926.1 L1333.5 922.4 L1334.3 926.8 L1335.2 920.2 L1336.1 921.5 L1336.9 917.0 L1337.8 918.3 L1338.7 915.2 L1339.6 914.5 L1340.4 912.3 L1341.3 907.8 L1342.2 905.9 L1343.0 905.5 L1343.9 906.7 L1344.8 904.4 L1345.6 904.5 L1346.5 903.4 L1347.4 903.1 L1348.3 898.0 L1349.1 896.7 L1350.0 895.9 L1350.9 899.0 L1351.7 895.4 L1352.6 895.8 L1353.5 897.6 L1354.3 893.1 L1355.2 891.9 L1356.1 890.6 L1357.0 892.7 L1357.8 891.9 L1358.7 889.4 L1359.6 887.6 L1360.4 887.0 L1361.3 886.6 L1362.2 886.6 L1363.0 882.2 L1363.9 881.5 L1364.8 883.0 L1365.7 881.8 L1366.5 879.5 L1367.4 878.3 L1368.3 879.1 L1369.1 876.9 L1370.0 873.1 L1370.9 873.2 L1371.7 875.1 L1372.6 872.8 L1373.5 872.8 L1374.4 868.5 L1375.2 872.2 L1376.1 870.0 L1377.0 868.6 L1377.8 868.5 L1378.7 867.5 L1379.6 867.3 L1380.4 864.0 L1381.3 866.0 L1382.2 869.4 L1383.1 867.4 L1383.9 866.4 L1384.8 868.7 L1385.7 870.5 L1386.5 868.2 L1387.4 869.7 L1388.3 867.5 L1389.1 865.8 L1390.0 871.2 L1390.9 867.6 L1391.8 870.1 L1392.6 870.5 L1393.5 871.4 L1394.4 867.8 L1395.2 870.2 L1396.1 866.8 L1397.0 865.9 L1397.8 865.4 L1398.7 868.2 L1399.6 865.4 L1400.5 871.9 L1401.3 869.4 L1402.2 869.4 L1403.1 868.4 L1403.9 869.6 L1404.8 867.7 L1405.7 867.2 L1406.5 868.0 L1407.4 870.8 L1408.3 870.6 L1409.2 871.8 L1410.0 869.8 L1410.9 874.2 L1411.8 876.9 L1412.6 878.2 L1413.5 876.7 L1414.4 881.7 L1415.2 884.0 L1416.1 886.7 L1417.0 886.0 L1417.9 887.7 L1418.7 885.4 L1419.6 886.4 L1420.5 886.8 L1421.3 890.6 L1422.2 886.2 L1423.1 889.0 L1423.9 887.4 L1424.8 893.9 L1425.7 893.4 L1426.6 891.9 L1427.4 895.5 L1428.3 896.6 L1429.2 896.4 L1430.0 898.5 L1430.9 899.0 L1431.8 900.4 L1432.6 899.4 L1433.5 902.1 L1434.4 906.2 L1435.3 906.8 L1436.1 911.5 L1437.0 911.6 L1437.9 911.8 L1438.7 909.4 L1439.6 913.1 L1440.5 916.1 L1441.3 920.7 L1442.2 920.1 L1443.1 918.8 L1444.0 924.3 L1444.8 926.5 L1445.7 928.6 L1446.6 930.8 L1447.4 928.8 L1448.3 931.9 L1449.2 934.5 L1450.0 936.8 L1450.9 936.0 L1451.8 940.1 L1452.7 941.4 L1453.5 938.0 L1454.4 944.2 L1455.3 945.1 L1456.1 945.2 L1457.0 947.0 L1457.9 950.0 L1458.7 953.6 L1459.6 953.3 L1460.5 951.6 L1461.4 955.0 L1462.2 957.4 L1463.1 955.1 L1464.0 960.8 L1464.8 961.4 L1465.7 963.6 L1466.6 964.2 L1467.4 968.4 L1468.3 967.9 L1469.2 969.6 L1470.1 973.3 L1470.9 976.2 L1471.8 975.7 L1472.7 977.6 L1473.5 981.1 L1474.4 982.2 L1475.3 983.1 L1476.1 986.3 L1477.0 987.4 L1477.9 985.9 L1478.8 987.3 L1479.6 993.4 L1480.5 990.8 L1481.4 990.5 L1482.2 994.6 L1483.1 997.0 L1484.0 999.9 L1484.8 1003.4 L1485.7 1002.1 L1486.6 1001.0 L1487.5 1005.2 L1488.3 1009.3 L1489.2 1012.8 L1490.1 1012.2 L1490.9 1013.3 L1491.8 1016.0 L1492.7 1016.3 L1493.5 1018.6 L1494.4 1025.8 L1495.3 1026.2 L1496.2 1023.9 L1497.0 1024.2 L1497.9 1028.7 L1498.8 1029.5 L1499.6 1030.3 L1500.5 1027.4 L1501.4 1031.3 L1502.2 1031.1 L1503.1 1035.1 L1504.0 1030.1 L1504.9 1036.6 L1505.7 1035.2 L1506.6 1038.7 L1507.5 1037.5 L1508.3 1041.3 L1509.2 1040.0 L1510.1 1040.6 L1510.9 1042.0 L1511.8 1046.3 L1512.7 1043.8 L1513.6 1046.7 L1514.4 1048.7 L1515.3 1046.6 L1516.2 1049.5 L1517.0 1049.8 L1517.9 1053.5 L1518.8 1050.8 L1519.6 1053.2 L1520.5 1051.2 L1521.4 1051.3 L1522.3 1055.1 L1523.1 1055.9 L1524.0 1056.3 L1524.9 1051.2 L1525.7 1058.6 L1526.6 1057.3 L1527.5 1057.6 L1528.3 1061.1 L1529.2 1059.5 L1530.1 1058.8 L1531.0 1057.4 L1531.8 1059.5 L1532.7 1061.9 L1533.6 1057.7 L1534.4 1062.3 L1535.3 1061.6 L1536.2 1062.0 L1537.0 1065.4 L1537.9 1064.0 L1538.8 1062.2 L1539.7 1063.6 L1540.5 1066.1 L1541.4 1066.5 L1542.3 1062.4 L1543.1 1063.9 L1544.0 1065.8 L1544.9 1067.4 L1545.7 1066.2 L1546.6 1064.0 L1547.5 1066.2 L1548.4 1063.5 L1549.2 1065.3 L1550.1 1064.5 L1551.0 1066.4 L1551.8 1066.6 L1552.7 1066.8 L1553.6 1064.6 L1554.4 1063.9 L1555.3 1064.3 L1556.2 1067.1 L1557.1 1063.2 L1557.9 1063.1 L1558.8 1062.1 L1559.7 1060.0 L1560.5 1062.6 L1561.4 1061.9 L1562.3 1060.7 L1563.1 1059.2 L1564.0 1059.3 L1564.9 1059.0 L1565.8 1057.0 L1566.6 1058.7 L1567.5 1061.1 L1568.4 1060.1 L1569.2 1058.7 L1570.1 1060.4 L1571.0 1058.6 L1571.8 1057.9 L1572.7 1058.8 L1573.6 1059.1 L1574.5 1061.0 L1575.3 1056.9 L1576.2 1054.9 L1577.1 1053.5 L1577.9 1048.1 L1578.8 1050.2 L1579.7 1049.0 L1580.5 1044.6 L1581.4 1043.1 L1582.3 1043.5 L1583.2 1043.1 L1584.0 1040.8 L1584.9 1038.8 L1585.8 1040.8 L1586.6 1039.4 L1587.5 1042.3 L1588.4 1039.4 L1589.2 1039.2 L1590.1 1038.9 L1591.0 1036.5 L1591.9 1036.2 L1592.7 1040.1 L1593.6 1038.5 L1594.5 1033.6 L1595.3 1035.0 L1596.2 1032.7 L1597.1 1033.0 L1597.9 1031.7 L1598.8 1027.7 L1599.7 1028.2 L1600.6 1023.9 L1601.4 1023.5 L1602.3 1023.7 L1603.2 1020.3 L1604.0 1018.1 L1604.9 1018.6 L1605.8 1014.0 L1606.6 1014.9 L1607.5 1012.5 L1608.4 1009.3 L1609.3 1010.8 L1610.1 1010.7 L1611.0 1005.9 L1611.9 1005.2 L1612.7 1007.3 L1613.6 1006.7 L1614.5 1005.7 L1615.3 1007.9 L1616.2 1009.4 L1617.1 1003.2 L1618.0 1003.3 L1618.8 1001.1 L1619.7 1003.1 L1620.6 997.4 L1621.4 1001.7 L1622.3 996.3 L1623.2 999.1 L1624.0 998.6 L1624.9 995.5 L1625.8 996.8 L1626.7 998.2 L1627.5 995.0 L1628.4 994.8 L1629.3 991.7 L1630.1 992.2 L1631.0 989.4 L1631.9 993.5 L1632.7 989.8 L1633.6 991.0 L1634.5 989.9 L1635.4 986.8 L1636.2 987.4 L1637.1 987.1 L1638.0 986.6 L1638.8 978.7 L1639.7 984.7 L1640.6 983.4 L1641.4 980.5 L1642.3 978.8 L1643.2 978.2 L1644.1 978.3 L1644.9 972.7 L1645.8 977.6 L1646.7 971.6 L1647.5 976.2 L1648.4 972.0 L1649.3 971.9 L1650.1 969.5 L1651.0 967.0 L1651.9 964.4 L1652.8 964.3 L1653.6 965.7 L1654.5 962.3 L1655.4 961.7 L1656.2 960.5 L1657.1 958.3 L1658.0 957.7 L1658.8 959.8 L1659.7 958.8 L1660.6 960.0 L1661.5 953.1 L1662.3 951.8 L1663.2 952.8 L1664.1 949.3 L1664.9 951.3 L1665.8 952.5 L1666.7 949.6 L1667.5 947.5 L1668.4 944.1 L1669.3 946.3 L1670.2 943.7 L1671.0 945.2 L1671.9 944.0 L1672.8 939.3 L1673.6 939.8 L1674.5 939.7 L1675.4 940.8 L1676.2 941.0 L1677.1 936.9 L1678.0 937.3 L1678.9 938.2 L1679.7 934.1 L1680.6 934.4 L1681.5 934.0 L1682.3 933.2 L1683.2 935.8 L1684.1 933.2 L1684.9 929.4 L1685.8 933.3 L1686.7 929.8 L1687.6 929.0 L1688.4 930.6 L1689.3 927.3 L1690.2 924.9 L1691.0 923.8 L1691.9 923.9 L1692.8 924.3 L1693.6 923.1 L1694.5 920.2 L1695.4 917.5 L1696.3 919.6 L1697.1 914.5 L1697.5 916.1" stroke="#1b7f80"/><path d="M1004.6 1186.3 L1005.5 1183.4 L1006.3 1188.3 L1007.2 1189.3 L1008.1 1182.5 L1009.0 1184.5 L1009.8 1188.4 L1010.7 1187.7 L1011.6 1188.7 L1012.4 1186.9 L1013.3 1191.4 L1014.2 1191.3 L1015.0 1189.6 L1015.9 1192.3 L1016.8 1190.7 L1017.7 1187.3 L1018.5 1190.3 L1019.4 1187.0 L1020.3 1191.5 L1021.1 1189.0 L1022.0 1188.6 L1022.9 1187.2 L1023.7 1191.8 L1024.6 1188.2 L1025.5 1187.4 L1026.4 1187.4 L1027.2 1189.5 L1028.1 1188.9 L1029.0 1188.8 L1029.8 1188.7 L1030.7 1192.7 L1031.6 1186.1 L1032.4 1185.6 L1033.3 1184.5 L1034.2 1187.8 L1035.1 1188.7 L1035.9 1185.2 L1036.8 1182.9 L1037.7 1182.6 L1038.5 1185.8 L1039.4 1185.6 L1040.3 1184.7 L1041.1 1181.2 L1042.0 1183.1 L1042.9 1182.4 L1043.8 1182.2 L1044.6 1183.5 L1045.5 1181.6 L1046.4 1182.4 L1047.2 1180.6 L1048.1 1180.9 L1049.0 1181.5 L1049.8 1176.0 L1050.7 1178.5 L1051.6 1177.8 L1052.5 1177.0 L1053.3 1177.4 L1054.2 1181.3 L1055.1 1174.6 L1055.9 1178.0 L1056.8 1169.8 L1057.7 1171.4 L1058.5 1170.9 L1059.4 1170.4 L1060.3 1169.3 L1061.2 1168.5 L1062.0 1164.6 L1062.9 1163.3 L1063.8 1165.7 L1064.6 1162.3 L1065.5 1158.7 L1066.4 1158.3 L1067.2 1158.0 L1068.1 1160.7 L1069.0 1159.0 L1069.9 1159.6 L1070.7 1155.9 L1071.6 1156.5 L1072.5 1156.8 L1073.3 1153.6 L1074.2 1154.7 L1075.1 1151.1 L1075.9 1151.0 L1076.8 1150.1 L1077.7 1147.2 L1078.6 1150.6 L1079.4 1147.3 L1080.3 1147.6 L1081.2 1147.9 L1082.0 1146.9 L1082.9 1146.5 L1083.8 1143.6 L1084.6 1141.7 L1085.5 1141.5 L1086.4 1136.3 L1087.3 1135.8 L1088.1 1135.1 L1089.0 1135.0 L1089.9 1137.7 L1090.7 1133.8 L1091.6 1134.5 L1092.5 1138.2 L1093.3 1133.6 L1094.2 1135.9 L1095.1 1131.4 L1096.0 1132.8 L1096.8 1130.6 L1097.7 1131.7 L1098.6 1134.3 L1099.4 1127.5 L1100.3 1132.4 L1101.2 1131.5 L1102.0 1128.8 L1102.9 1126.1 L1103.8 1129.2 L1104.7 1127.1 L1105.5 1128.3 L1106.4 1127.1 L1107.3 1130.4 L1108.1 1125.2 L1109.0 1122.7 L1109.9 1125.3 L1110.7 1125.0 L1111.6 1127.6 L1112.5 1126.2 L1113.4 1125.0 L1114.2 1127.8 L1115.1 1121.1 L1116.0 1122.5 L1116.8 1121.8 L1117.7 1123.1 L1118.6 1120.7 L1119.4 1125.7 L1120.3 1123.5 L1121.2 1120.4 L1122.1 1121.6 L1122.9 1124.9 L1123.8 1126.2 L1124.7 1129.1 L1125.5 1131.4 L1126.4 1125.1 L1127.3 1121.6 L1128.1 1118.8 L1129.0 1124.8 L1129.9 1122.1 L1130.8 1123.1 L1131.6 1122.6 L1132.5 1123.7 L1133.4 1126.8 L1134.2 1124.5 L1135.1 1123.7 L1136.0 1121.7 L1136.8 1120.5 L1137.7 1123.9 L1138.6 1125.6 L1139.5 1130.8 L1140.3 1127.3 L1141.2 1130.1 L1142.1 1127.0 L1142.9 1125.7 L1143.8 1126.6 L1144.7 1127.4 L1145.5 1134.5 L1146.4 1126.9 L1147.3 1130.8 L1148.2 1126.1 L1149.0 1130.2 L1149.9 1128.2 L1150.8 1126.3 L1151.6 1125.9 L1152.5 1123.7 L1153.4 1125.8 L1154.2 1122.9 L1155.1 1120.3 L1156.0 1119.5 L1156.9 1122.6 L1157.7 1125.6 L1158.6 1121.6 L1159.5 1120.4 L1160.3 1121.0 L1161.2 1123.1 L1162.1 1119.9 L1162.9 1117.9 L1163.8 1121.2 L1164.7 1119.0 L1165.6 1121.2 L1166.4 1117.3 L1167.3 1113.4 L1168.2 1112.5 L1169.0 1118.8 L1169.9 1118.3 L1170.8 1113.3 L1171.6 1112.0 L1172.5 1115.1 L1173.4 1108.9 L1174.3 1108.4 L1175.1 1110.5 L1176.0 1107.5 L1176.9 1107.3 L1177.7 1105.9 L1178.6 1105.7 L1179.5 1106.3 L1180.3 1102.7 L1181.2 1102.3 L1182.1 1096.5 L1183.0 1098.6 L1183.8 1096.1 L1184.7 1094.4 L1185.6 1094.0 L1186.4 1094.1 L1187.3 1095.5 L1188.2 1090.9 L1189.0 1092.5 L1189.9 1091.0 L1190.8 1090.5 L1191.7 1092.1 L1192.5 1090.5 L1193.4 1091.0 L1194.3 1087.4 L1195.1 1085.4 L1196.0 1084.9 L1196.9 1084.4 L1197.7 1083.0 L1198.6 1079.6 L1199.5 1080.4 L1200.4 1079.5 L1201.2 1082.4 L1202.1 1080.6 L1203.0 1075.4 L1203.8 1076.1 L1204.7 1073.8 L1205.6 1075.0 L1206.4 1076.3 L1207.3 1077.6 L1208.2 1074.1 L1209.1 1074.1 L1209.9 1071.4 L1210.8 1074.7 L1211.7 1073.1 L1212.5 1073.9 L1213.4 1073.3 L1214.3 1074.7 L1215.1 1071.9 L1216.0 1072.6 L1216.9 1078.8 L1217.8 1073.2 L1218.6 1073.8 L1219.5 1079.0 L1220.4 1081.0 L1221.2 1074.3 L1222.1 1075.8 L1223.0 1077.2 L1223.8 1079.6 L1224.7 1075.1 L1225.6 1076.4 L1226.5 1078.1 L1227.3 1077.4 L1228.2 1076.0 L1229.1 1076.3 L1229.9 1074.0 L1230.8 1075.7 L1231.7 1075.5 L1232.5 1076.1 L1233.4 1074.5 L1234.3 1076.0 L1235.2 1076.6 L1236.0 1074.8 L1236.9 1074.6 L1237.8 1073.5 L1238.6 1072.6 L1239.5 1070.4 L1240.4 1071.1 L1241.2 1069.3 L1242.1 1071.7 L1243.0 1069.4 L1243.9 1065.7 L1244.7 1060.7 L1245.6 1056.4 L1246.5 1056.9 L1247.3 1053.3 L1248.2 1053.1 L1249.1 1048.8 L1249.9 1053.0 L1250.8 1051.8 L1251.7 1048.8 L1252.6 1049.6 L1253.4 1050.6 L1254.3 1050.1 L1255.2 1049.4 L1256.0 1049.6 L1256.9 1049.3 L1257.8 1050.0 L1258.6 1052.3 L1259.5 1045.8 L1260.4 1050.2 L1261.3 1051.4 L1262.1 1052.2 L1263.0 1051.6 L1263.9 1049.8 L1264.7 1053.9 L1265.6 1056.6 L1266.5 1051.4 L1267.3 1055.9 L1268.2 1054.2 L1269.1 1055.0 L1270.0 1053.6 L1270.8 1055.2 L1271.7 1058.2 L1272.6 1057.3 L1273.4 1059.4 L1274.3 1058.6 L1275.2 1057.4 L1276.0 1059.7 L1276.9 1057.4 L1277.8 1058.0 L1278.7 1056.0 L1279.5 1056.5 L1280.4 1055.1 L1281.3 1057.7 L1282.1 1053.9 L1283.0 1056.9 L1283.9 1055.0 L1284.7 1057.0 L1285.6 1056.0 L1286.5 1057.2 L1287.4 1053.9 L1288.2 1048.1 L1289.1 1048.5 L1290.0 1044.5 L1290.8 1043.5 L1291.7 1045.3 L1292.6 1042.6 L1293.4 1039.1 L1294.3 1037.5 L1295.2 1038.2 L1296.1 1035.1 L1296.9 1035.0 L1297.8 1035.8 L1298.7 1036.3 L1299.5 1034.4 L1300.4 1028.5 L1301.3 1031.9 L1302.1 1030.4 L1303.0 1029.9 L1303.9 1030.7 L1304.8 1023.5 L1305.6 1024.7 L1306.5 1025.4 L1307.4 1020.7 L1308.2 1024.3 L1309.1 1021.4 L1310.0 1020.9 L1310.8 1017.6 L1311.7 1018.6 L1312.6 1017.9 L1313.5 1015.6 L1314.3 1014.6 L1315.2 1013.6 L1316.1 1011.0 L1316.9 1011.1 L1317.8 1010.2 L1318.7 1010.1 L1319.5 1010.1 L1320.4 1006.3 L1321.3 1006.7 L1322.2 1008.2 L1323.0 1004.2 L1323.9 1003.3 L1324.8 1003.9 L1325.6 1004.0 L1326.5 1002.0 L1327.4 1003.1 L1328.2 1001.6 L1329.1 1000.8 L1330.0 999.7 L1330.9 1001.4 L1331.7 997.1 L1332.6 993.9 L1333.5 998.2 L1334.3 994.6 L1335.2 994.7 L1336.1 995.7 L1336.9 990.9 L1337.8 990.7 L1338.7 989.5 L1339.6 989.9 L1340.4 990.9 L1341.3 990.3 L1342.2 989.2 L1343.0 986.1 L1343.9 984.1 L1344.8 986.7 L1345.6 985.2 L1346.5 985.7 L1347.4 985.3 L1348.3 983.7 L1349.1 983.8 L1350.0 982.4 L1350.9 982.1 L1351.7 979.6 L1352.6 979.7 L1353.5 979.5 L1354.3 979.8 L1355.2 977.4 L1356.1 978.1 L1357.0 976.5 L1357.8 976.1 L1358.7 976.9 L1359.6 972.4 L1360.4 972.9 L1361.3 972.1 L1362.2 970.4 L1363.0 972.3 L1363.9 973.8 L1364.8 971.9 L1365.7 972.1 L1366.5 972.9 L1367.4 972.7 L1368.3 970.3 L1369.1 971.8 L1370.0 969.6 L1370.9 967.7 L1371.7 967.5 L1372.6 965.7 L1373.5 965.9 L1374.4 966.1 L1375.2 967.2 L1376.1 968.0 L1377.0 963.2 L1377.8 965.3 L1378.7 963.0 L1379.6 964.9 L1380.4 964.0 L1381.3 961.7 L1382.2 965.6 L1383.1 963.5 L1383.9 963.7 L1384.8 963.1 L1385.7 963.8 L1386.5 965.4 L1387.4 964.7 L1388.3 965.6 L1389.1 965.7 L1390.0 967.2 L1390.9 964.9 L1391.8 963.3 L1392.6 966.9 L1393.5 964.9 L1394.4 966.8 L1395.2 965.6 L1396.1 964.7 L1397.0 965.2 L1397.8 967.3 L1398.7 967.3 L1399.6 964.4 L1400.5 964.4 L1401.3 965.7 L1402.2 963.1 L1403.1 965.0 L1403.9 964.8 L1404.8 965.7 L1405.7 964.6 L1406.5 964.1 L1407.4 964.0 L1408.3 966.0 L1409.2 967.6 L1410.0 968.6 L1410.9 972.4 L1411.8 971.9 L1412.6 969.7 L1413.5 972.2 L1414.4 971.9 L1415.2 972.8 L1416.1 974.3 L1417.0 975.8 L1417.9 975.3 L1418.7 978.2 L1419.6 976.0 L1420.5 978.5 L1421.3 983.1 L1422.2 980.7 L1423.1 983.4 L1423.9 982.4 L1424.8 984.1 L1425.7 984.1 L1426.6 984.9 L1427.4 984.9 L1428.3 987.6 L1429.2 986.7 L1430.0 989.8 L1430.9 991.3 L1431.8 991.3 L1432.6 991.4 L1433.5 993.5 L1434.4 993.5 L1435.3 996.3 L1436.1 993.6 L1437.0 996.8 L1437.9 995.7 L1438.7 997.7 L1439.6 1003.1 L1440.5 1003.9 L1441.3 1003.1 L1442.2 1003.6 L1443.1 1003.2 L1444.0 1008.3 L1444.8 1014.1 L1445.7 1013.0 L1446.6 1013.3 L1447.4 1016.4 L1448.3 1015.1 L1449.2 1018.4 L1450.0 1020.5 L1450.9 1021.7 L1451.8 1024.3 L1452.7 1025.1 L1453.5 1027.0 L1454.4 1026.5 L1455.3 1030.2 L1456.1 1032.6 L1457.0 1030.3 L1457.9 1031.8 L1458.7 1036.2 L1459.6 1035.4 L1460.5 1039.0 L1461.4 1037.7 L1462.2 1041.6 L1463.1 1041.0 L1464.0 1042.5 L1464.8 1045.5 L1465.7 1044.0 L1466.6 1044.4 L1467.4 1046.3 L1468.3 1048.8 L1469.2 1047.1 L1470.1 1051.4 L1470.9 1051.0 L1471.8 1054.5 L1472.7 1050.8 L1473.5 1054.2 L1474.4 1054.2 L1475.3 1056.6 L1476.1 1059.3 L1477.0 1060.0 L1477.9 1061.1 L1478.8 1062.4 L1479.6 1064.2 L1480.5 1063.7 L1481.4 1067.3 L1482.2 1068.4 L1483.1 1069.3 L1484.0 1070.7 L1484.8 1071.6 L1485.7 1075.3 L1486.6 1073.5 L1487.5 1074.5 L1488.3 1075.1 L1489.2 1076.0 L1490.1 1076.9 L1490.9 1078.6 L1491.8 1081.0 L1492.7 1082.8 L1493.5 1083.6 L1494.4 1083.6 L1495.3 1087.1 L1496.2 1088.0 L1497.0 1087.8 L1497.9 1088.2 L1498.8 1091.0 L1499.6 1091.6 L1500.5 1090.4 L1501.4 1093.3 L1502.2 1094.8 L1503.1 1094.2 L1504.0 1096.8 L1504.9 1095.5 L1505.7 1100.4 L1506.6 1101.2 L1507.5 1100.0 L1508.3 1101.9 L1509.2 1098.9 L1510.1 1101.7 L1510.9 1103.8 L1511.8 1103.6 L1512.7 1107.1 L1513.6 1109.8 L1514.4 1106.2 L1515.3 1107.5 L1516.2 1109.8 L1517.0 1112.5 L1517.9 1109.2 L1518.8 1112.0 L1519.6 1114.8 L1520.5 1110.5 L1521.4 1111.7 L1522.3 1113.5 L1523.1 1113.9 L1524.0 1116.3 L1524.9 1116.0 L1525.7 1113.7 L1526.6 1117.4 L1527.5 1116.3 L1528.3 1119.3 L1529.2 1117.1 L1530.1 1117.4 L1531.0 1119.5 L1531.8 1120.2 L1532.7 1120.1 L1533.6 1117.5 L1534.4 1120.9 L1535.3 1119.1 L1536.2 1121.2 L1537.0 1119.2 L1537.9 1122.1 L1538.8 1120.6 L1539.7 1120.2 L1540.5 1123.2 L1541.4 1122.8 L1542.3 1121.8 L1543.1 1124.8 L1544.0 1122.3 L1544.9 1123.1 L1545.7 1123.5 L1546.6 1122.4 L1547.5 1124.0 L1548.4 1122.7 L1549.2 1123.0 L1550.1 1125.6 L1551.0 1122.3 L1551.8 1120.5 L1552.7 1126.2 L1553.6 1127.5 L1554.4 1123.4 L1555.3 1121.3 L1556.2 1123.6 L1557.1 1123.7 L1557.9 1123.8 L1558.8 1122.5 L1559.7 1124.9 L1560.5 1124.8 L1561.4 1121.9 L1562.3 1124.9 L1563.1 1126.7 L1564.0 1124.0 L1564.9 1123.2 L1565.8 1123.4 L1566.6 1124.4 L1567.5 1121.0 L1568.4 1123.5 L1569.2 1122.7 L1570.1 1125.7 L1571.0 1122.7 L1571.8 1125.2 L1572.7 1121.1 L1573.6 1123.3 L1574.5 1122.7 L1575.3 1120.7 L1576.2 1121.9 L1577.1 1123.0 L1577.9 1120.5 L1578.8 1118.2 L1579.7 1120.2 L1580.5 1118.5 L1581.4 1118.8 L1582.3 1118.7 L1583.2 1116.0 L1584.0 1115.7 L1584.9 1118.1 L1585.8 1116.2 L1586.6 1112.9 L1587.5 1117.1 L1588.4 1115.9 L1589.2 1113.9 L1590.1 1112.5 L1591.0 1114.8 L1591.9 1113.5 L1592.7 1115.6 L1593.6 1112.1 L1594.5 1111.3 L1595.3 1109.8 L1596.2 1110.4 L1597.1 1109.4 L1597.9 1109.5 L1598.8 1106.2 L1599.7 1105.6 L1600.6 1104.9 L1601.4 1106.0 L1602.3 1106.4 L1603.2 1103.0 L1604.0 1102.5 L1604.9 1103.1 L1605.8 1101.8 L1606.6 1103.0 L1607.5 1098.0 L1608.4 1099.5 L1609.3 1099.1 L1610.1 1096.5 L1611.0 1098.0 L1611.9 1097.6 L1612.7 1098.2 L1613.6 1099.6 L1614.5 1097.3 L1615.3 1095.8 L1616.2 1096.8 L1617.1 1097.9 L1618.0 1094.7 L1618.8 1094.4 L1619.7 1096.1 L1620.6 1094.6 L1621.4 1095.4 L1622.3 1094.0 L1623.2 1094.6 L1624.0 1091.8 L1624.9 1092.9 L1625.8 1092.2 L1626.7 1090.4 L1627.5 1089.6 L1628.4 1092.4 L1629.3 1090.6 L1630.1 1089.3 L1631.0 1090.2 L1631.9 1091.6 L1632.7 1086.4 L1633.6 1087.2 L1634.5 1087.6 L1635.4 1090.5 L1636.2 1088.5 L1637.1 1088.8 L1638.0 1085.7 L1638.8 1085.3 L1639.7 1087.1 L1640.6 1086.1 L1641.4 1086.3 L1642.3 1084.8 L1643.2 1085.0 L1644.1 1084.3 L1644.9 1084.6 L1645.8 1084.2 L1646.7 1080.2 L1647.5 1078.8 L1648.4 1082.8 L1649.3 1082.5 L1650.1 1078.8 L1651.0 1077.1 L1651.9 1079.2 L1652.8 1079.8 L1653.6 1080.5 L1654.5 1078.1 L1655.4 1076.3 L1656.2 1075.0 L1657.1 1075.7 L1658.0 1074.7 L1658.8 1073.2 L1659.7 1076.9 L1660.6 1076.0 L1661.5 1074.5 L1662.3 1071.1 L1663.2 1073.0 L1664.1 1072.2 L1664.9 1071.3 L1665.8 1071.9 L1666.7 1070.5 L1667.5 1070.1 L1668.4 1069.4 L1669.3 1068.4 L1670.2 1064.9 L1671.0 1067.0 L1671.9 1065.6 L1672.8 1064.0 L1673.6 1067.6 L1674.5 1067.1 L1675.4 1066.1 L1676.2 1064.0 L1677.1 1065.0 L1678.0 1062.7 L1678.9 1062.4 L1679.7 1060.1 L1680.6 1061.7 L1681.5 1060.7 L1682.3 1058.3 L1683.2 1059.5 L1684.1 1059.0 L1684.9 1061.1 L1685.8 1059.3 L1686.7 1057.6 L1687.6 1057.4 L1688.4 1056.7 L1689.3 1055.8 L1690.2 1054.1 L1691.0 1054.9 L1691.9 1053.6 L1692.8 1052.4 L1693.6 1054.4 L1694.5 1053.8 L1695.4 1050.2 L1696.3 1052.1 L1697.1 1053.2 L1697.5 1053.1" stroke="#ff7f1e"/></g><rect x="1004.6" y="729.5" width="692.9" height="498.0" fill="none" stroke="#2a2a2a" stroke-width="1.7"/><path d="M994.6 1150.9H1004.6M1697.5 1150.9H1687.5M994.6 997.7H1004.6M1697.5 997.7H1687.5M994.6 844.4H1004.6M1697.5 844.4H1687.5M999.1 1227.5H1004.6M999.1 1074.3H1004.6M1697.5 1074.3H1692.0M999.1 921.0H1004.6M1697.5 921.0H1692.0M999.1 767.8H1004.6M1697.5 767.8H1692.0M1004.6 1227.5V1237.5M1177.8 1227.5V1237.5M1177.8 729.5V739.5M1351.0 1227.5V1237.5M1351.0 729.5V739.5M1524.3 1227.5V1237.5M1524.3 729.5V739.5M1697.5 1227.5V1237.5M1091.2 1227.5V1233.0M1091.2 729.5V735.0M1264.4 1227.5V1233.0M1264.4 729.5V735.0M1437.7 1227.5V1233.0M1437.7 729.5V735.0M1610.9 1227.5V1233.0M1610.9 729.5V735.0" stroke="#2a2a2a" stroke-width="1.7" fill="none"/><text class="tl" x="987.6" y="1160.4" text-anchor="end">1</text><text class="tl" x="987.6" y="1007.2" text-anchor="end">2</text><text class="tl" x="987.6" y="853.9" text-anchor="end">3</text><text class="tl" x="1004.6" y="1268.0" text-anchor="middle">200</text><text class="tl" x="1177.8" y="1268.0" text-anchor="middle">300</text><text class="tl" x="1351.0" y="1268.0" text-anchor="middle">400</text><text class="tl" x="1524.3" y="1268.0" text-anchor="middle">500</text><text class="tl" x="1697.5" y="1268.0" text-anchor="middle">600</text><text class="at" x="1351.0" y="1324.9" text-anchor="middle">Wavelength (nm)</text><text class="at" transform="translate(930.10,989.35) rotate(-90)" text-anchor="middle">R %</text><text class="an" x="1263.5" y="857.1">421 nm</text><rect x="1385.5" y="763.2" width="269.3" height="74.9" fill="#fff" stroke="#8a8a8a" stroke-width="1.2"/><line x1="1396.7" y1="782.7" x2="1466.7" y2="782.7" stroke="#ff7f1e" stroke-width="1.9" stroke-opacity="0.82"/><text class="lg" x="1476.0" y="793.0">PC340</text><line x1="1396.7" y1="820.5" x2="1466.7" y2="820.5" stroke="#1b7f80" stroke-width="1.9" stroke-opacity="0.82"/><text class="lg" x="1476.0" y="830.8">GQD-PC340</text><text class="pl" x="882.5" y="704.75">(d)</text></g>
</svg></body></html>
